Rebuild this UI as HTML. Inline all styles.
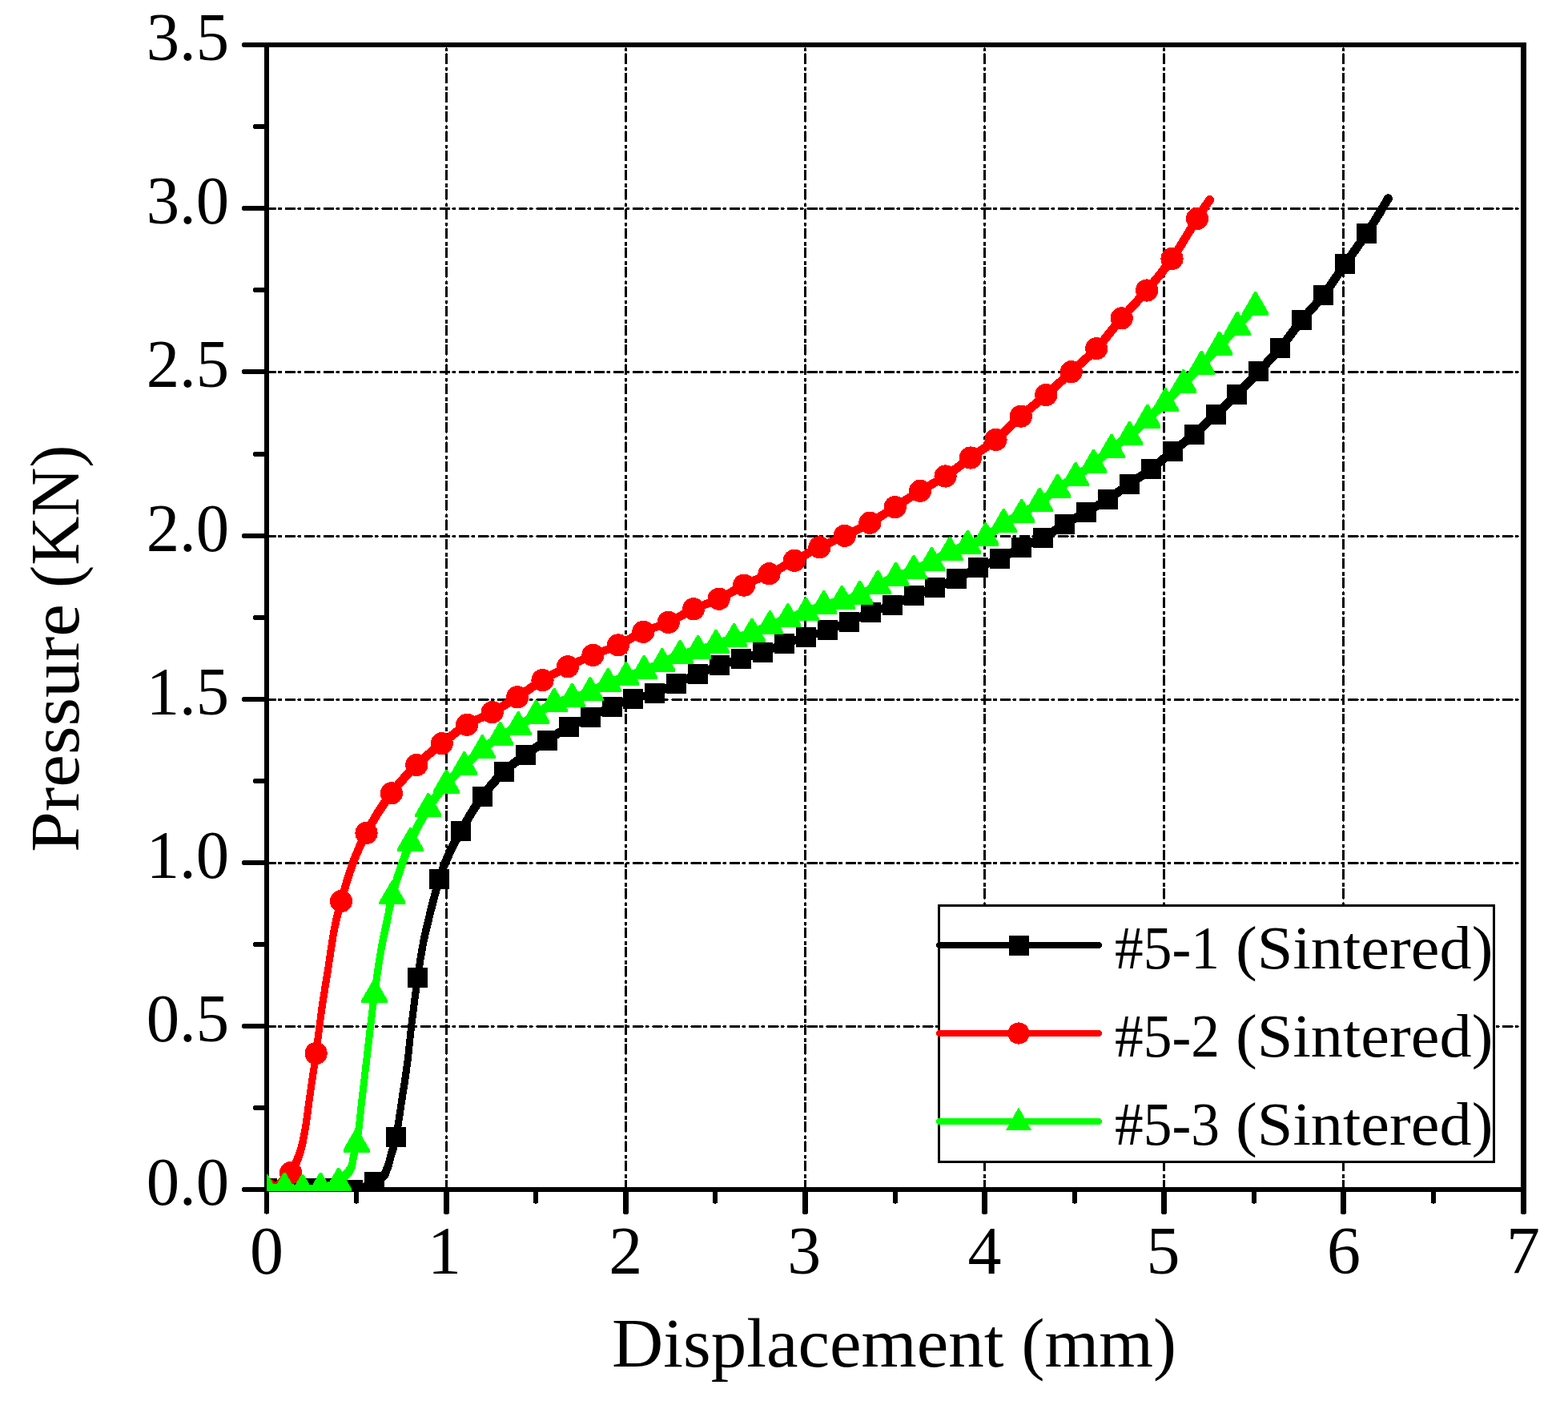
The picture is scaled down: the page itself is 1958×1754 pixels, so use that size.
<!DOCTYPE html>
<html lang="en"><head><meta charset="utf-8"><title>Pressure vs Displacement</title>
<style>html,body{margin:0;padding:0;background:#fff}svg{display:block}text{font-family:"Liberation Serif","DejaVu Serif",serif;fill:#000}</style>
</head><body>
<svg width="1958" height="1754" viewBox="0 0 1958 1754">
<rect width="1958" height="1754" fill="#fff"/>
<defs><clipPath id="plot"><rect x="333" y="56" width="1570" height="1431"/></clipPath></defs>
<g shape-rendering="crispEdges">
<g stroke="#000" stroke-width="3" fill="none" stroke-linecap="round" stroke-dasharray="10.6 5 2 6.65">
<line x1="557.5" y1="1485" x2="557.5" y2="57"/>
<line x1="781.5" y1="1485" x2="781.5" y2="57"/>
<line x1="1005.5" y1="1485" x2="1005.5" y2="57"/>
<line x1="1229.5" y1="1485" x2="1229.5" y2="57"/>
<line x1="1453.5" y1="1485" x2="1453.5" y2="57"/>
<line x1="1677.5" y1="1485" x2="1677.5" y2="57"/>
<line x1="333" y1="1281.5" x2="1901" y2="1281.5" stroke-dasharray="10.6 5 2 6.534"/>
<line x1="333" y1="1077.5" x2="1901" y2="1077.5" stroke-dasharray="10.6 5 2 6.534"/>
<line x1="333" y1="873.5" x2="1901" y2="873.5" stroke-dasharray="10.6 5 2 6.534"/>
<line x1="333" y1="669.5" x2="1901" y2="669.5" stroke-dasharray="10.6 5 2 6.534"/>
<line x1="333" y1="464.5" x2="1901" y2="464.5" stroke-dasharray="10.6 5 2 6.534"/>
<line x1="333" y1="260.5" x2="1901" y2="260.5" stroke-dasharray="10.6 5 2 6.534"/>
</g>
<g fill="#000">
<rect x="330" y="53" width="6" height="1435"/>
<rect x="1899" y="53" width="7" height="1435"/>
<path d="M330,53 H1904.5 L1906,54.5 V59 H330 Z"/>
<rect x="330" y="1482" width="1576" height="6"/>
</g>
<g stroke="#000" fill="none" stroke-linecap="round">
<line x1="305.0" y1="1485.0" x2="332" y2="1485.0" stroke-width="6"/>
<line x1="318.8" y1="1383.0" x2="332" y2="1383.0" stroke-width="6"/>
<line x1="305.0" y1="1281.0" x2="332" y2="1281.0" stroke-width="6"/>
<line x1="318.8" y1="1179.0" x2="332" y2="1179.0" stroke-width="6"/>
<line x1="305.0" y1="1077.0" x2="332" y2="1077.0" stroke-width="6"/>
<line x1="318.8" y1="975.0" x2="332" y2="975.0" stroke-width="6"/>
<line x1="305.0" y1="873.0" x2="332" y2="873.0" stroke-width="6"/>
<line x1="318.8" y1="771.0" x2="332" y2="771.0" stroke-width="6"/>
<line x1="305.0" y1="669.0" x2="332" y2="669.0" stroke-width="6"/>
<line x1="318.8" y1="567.0" x2="332" y2="567.0" stroke-width="6"/>
<line x1="305.0" y1="464.0" x2="332" y2="464.0" stroke-width="6"/>
<line x1="318.8" y1="362.0" x2="332" y2="362.0" stroke-width="6"/>
<line x1="305.0" y1="260.0" x2="332" y2="260.0" stroke-width="6"/>
<line x1="318.8" y1="158.0" x2="332" y2="158.0" stroke-width="6"/>
<line x1="305.0" y1="56.0" x2="332" y2="56.0" stroke-width="6"/>
<line x1="333.0" y1="1486" x2="333.0" y2="1512.8" stroke-width="6"/>
<line x1="445.0" y1="1486" x2="445.0" y2="1499.8" stroke-width="6"/>
<line x1="557.5" y1="1486" x2="557.5" y2="1512.8" stroke-width="7"/>
<line x1="669.0" y1="1486" x2="669.0" y2="1499.8" stroke-width="6"/>
<line x1="781.5" y1="1486" x2="781.5" y2="1512.8" stroke-width="7"/>
<line x1="893.0" y1="1486" x2="893.0" y2="1499.8" stroke-width="6"/>
<line x1="1005.5" y1="1486" x2="1005.5" y2="1512.8" stroke-width="7"/>
<line x1="1118.0" y1="1486" x2="1118.0" y2="1499.8" stroke-width="6"/>
<line x1="1229.5" y1="1486" x2="1229.5" y2="1512.8" stroke-width="7"/>
<line x1="1342.0" y1="1486" x2="1342.0" y2="1499.8" stroke-width="6"/>
<line x1="1453.5" y1="1486" x2="1453.5" y2="1512.8" stroke-width="7"/>
<line x1="1566.0" y1="1486" x2="1566.0" y2="1499.8" stroke-width="6"/>
<line x1="1677.5" y1="1486" x2="1677.5" y2="1512.8" stroke-width="7"/>
<line x1="1790.0" y1="1486" x2="1790.0" y2="1499.8" stroke-width="6"/>
<line x1="1902.5" y1="1486" x2="1902.5" y2="1512.8" stroke-width="7"/>
</g>
<g clip-path="url(#plot)">
<g fill="#000"><path d="M333.1,1487.7 L335.1,1487.7 L337.1,1487.7 L339.1,1487.7 L341.1,1487.7 L343.1,1487.7 L345.1,1487.7 L347.1,1487.7 L349.1,1487.7 L351.1,1487.7 L353.1,1487.7 L355.1,1487.7 L357.1,1487.7 L359.1,1487.7 L361.1,1487.7 L363.1,1487.7 L365.1,1487.7 L367.1,1487.7 L369.1,1487.7 L371.1,1487.7 L373.1,1487.7 L375.1,1487.7 L377.1,1487.7 L379.1,1487.7 L381.1,1487.7 L383.1,1487.7 L385.1,1487.7 L387.1,1487.7 L389.1,1487.7 L391.1,1487.7 L393.1,1487.7 L395.1,1487.7 L397.1,1487.7 L399.1,1487.7 L401.1,1487.7 L403.1,1487.7 L405.1,1487.7 L407.1,1487.7 L409.1,1487.7 L411.1,1487.7 L413.1,1487.7 L415.0,1487.7 L417.0,1487.8 L418.9,1487.9 L420.8,1488.1 L422.8,1488.3 L424.7,1488.4 L426.7,1488.6 L428.7,1488.8 L430.7,1488.9 L432.8,1489.0 L434.8,1489.1 L436.9,1489.2 L439.0,1489.2 L441.1,1489.2 L443.4,1489.3 L445.8,1489.2 L448.1,1488.9 L450.3,1488.5 L452.5,1487.9 L454.6,1487.3 L456.6,1486.5 L458.6,1485.7 L460.6,1484.9 L462.4,1484.0 L464.3,1483.1 L466.1,1482.3 L467.9,1481.4 L469.6,1480.5 L471.4,1479.6 L473.4,1478.7 L475.4,1477.7 L477.5,1476.5 L479.6,1475.1 L481.5,1473.5 L483.4,1471.5 L485.2,1468.5 L486.2,1466.1 L487.0,1463.9 L487.7,1461.9 L488.5,1459.9 L489.1,1458.0 L489.8,1455.7 L490.3,1453.6 L490.9,1451.5 L491.4,1449.5 L491.9,1447.6 L492.4,1445.7 L492.9,1443.9 L493.5,1442.1 L494.1,1440.3 L494.6,1438.4 L495.3,1436.5 L495.8,1434.6 L496.4,1432.6 L497.0,1430.6 L497.5,1428.5 L498.0,1426.5 L498.5,1424.4 L499.0,1422.3 L499.4,1420.2 L499.8,1418.0 L500.1,1415.9 L500.4,1413.8 L500.7,1411.7 L501.0,1409.7 L501.3,1407.7 L501.6,1405.7 L501.9,1403.7 L502.2,1401.7 L502.4,1399.8 L502.7,1397.8 L503.0,1395.9 L503.3,1393.9 L503.6,1391.9 L503.9,1390.0 L504.2,1388.0 L504.5,1386.0 L504.8,1384.0 L505.1,1382.0 L505.4,1380.0 L505.7,1378.1 L506.0,1376.1 L506.3,1374.1 L506.6,1372.1 L506.9,1370.1 L507.2,1368.2 L507.5,1366.2 L507.8,1364.3 L508.1,1362.3 L508.4,1360.3 L508.7,1358.4 L509.1,1356.4 L509.4,1354.4 L509.7,1352.4 L510.0,1350.4 L510.3,1348.4 L510.6,1346.4 L510.9,1344.4 L511.2,1342.4 L511.4,1340.4 L511.7,1338.4 L512.0,1336.4 L512.3,1334.4 L512.5,1332.4 L512.8,1330.4 L513.1,1328.4 L513.3,1326.4 L513.6,1324.3 L513.8,1322.3 L514.0,1320.2 L514.2,1318.2 L514.5,1316.2 L514.7,1314.2 L514.9,1312.2 L515.1,1310.2 L515.3,1308.2 L515.5,1306.2 L515.7,1304.2 L515.9,1302.2 L516.1,1300.2 L516.3,1298.2 L516.5,1296.2 L516.7,1294.2 L517.0,1292.3 L517.2,1290.3 L517.4,1288.3 L517.6,1286.4 L517.8,1284.4 L518.1,1282.5 L518.3,1280.5 L518.5,1278.5 L518.8,1276.6 L519.0,1274.6 L519.3,1272.6 L519.5,1270.6 L519.7,1268.6 L520.0,1266.7 L520.2,1264.7 L520.5,1262.7 L520.7,1260.7 L521.0,1258.8 L521.2,1256.8 L521.5,1254.8 L521.7,1252.8 L522.0,1250.9 L522.3,1248.9 L522.5,1246.9 L522.8,1244.9 L523.0,1243.0 L523.3,1241.0 L523.6,1239.0 L523.8,1237.1 L524.1,1235.1 L524.4,1233.1 L524.6,1231.2 L524.9,1229.2 L525.2,1227.2 L525.5,1225.3 L525.8,1223.3 L526.1,1221.3 L526.3,1219.4 L526.6,1217.4 L526.9,1215.4 L527.2,1213.4 L527.5,1211.5 L527.8,1209.5 L528.1,1207.5 L528.4,1205.6 L528.7,1203.6 L529.0,1201.7 L529.3,1199.7 L529.6,1197.8 L529.9,1195.8 L530.3,1193.9 L530.6,1191.9 L530.9,1190.0 L531.3,1188.0 L531.6,1186.1 L532.0,1184.2 L532.3,1182.3 L532.7,1180.4 L533.1,1178.4 L533.5,1176.5 L533.9,1174.6 L534.3,1172.7 L534.7,1170.8 L535.2,1168.9 L535.6,1167.0 L536.1,1165.1 L536.5,1163.1 L537.0,1161.2 L537.4,1159.3 L537.9,1157.3 L538.4,1155.4 L538.8,1153.5 L539.3,1151.5 L539.7,1149.6 L540.2,1147.7 L540.7,1145.7 L541.2,1143.8 L541.6,1141.9 L542.1,1139.9 L542.6,1138.0 L543.1,1136.1 L543.6,1134.2 L544.1,1132.2 L544.6,1130.3 L545.1,1128.4 L545.6,1126.5 L546.1,1124.6 L546.6,1122.6 L547.1,1120.7 L547.6,1118.8 L548.1,1116.9 L548.7,1115.0 L549.2,1113.1 L549.7,1111.2 L550.3,1109.3 L550.8,1107.4 L551.4,1105.6 L552.0,1103.7 L552.6,1101.8 L553.1,1099.9 L553.7,1098.1 L554.3,1096.2 L555.0,1094.4 L555.6,1092.5 L556.2,1090.7 L556.9,1088.8 L557.6,1087.0 L558.2,1085.2 L558.9,1083.4 L559.6,1081.6 L560.4,1079.9 L561.1,1078.1 L561.9,1076.3 L562.7,1074.5 L563.5,1072.8 L564.3,1071.0 L565.1,1069.2 L565.9,1067.4 L566.8,1065.7 L567.6,1063.9 L568.5,1062.2 L569.4,1060.4 L570.3,1058.7 L571.2,1056.9 L572.1,1055.2 L573.0,1053.5 L573.9,1051.7 L574.8,1050.0 L575.8,1048.3 L576.7,1046.5 L577.7,1044.8 L578.6,1043.1 L579.6,1041.3 L580.6,1039.6 L581.5,1037.8 L582.5,1036.1 L583.5,1034.4 L584.5,1032.7 L585.5,1031.0 L586.5,1029.3 L587.4,1027.5 L588.4,1025.8 L589.5,1024.1 L590.5,1022.5 L591.5,1020.8 L592.5,1019.1 L593.5,1017.4 L594.6,1015.8 L595.6,1014.1 L596.7,1012.4 L597.8,1010.8 L598.8,1009.2 L599.9,1007.5 L601.0,1005.9 L602.1,1004.3 L603.2,1002.7 L604.4,1001.2 L605.5,999.6 L606.6,998.0 L607.8,996.5 L609.0,994.9 L610.2,993.4 L611.4,991.8 L612.6,990.3 L613.8,988.8 L615.1,987.2 L616.3,985.7 L617.6,984.2 L618.8,982.7 L620.1,981.3 L621.4,979.8 L622.6,978.4 L623.9,976.9 L625.3,975.5 L626.6,974.1 L627.9,972.7 L629.3,971.3 L630.6,970.0 L632.0,968.6 L633.4,967.3 L634.8,966.0 L636.2,964.8 L637.7,963.5 L639.1,962.2 L640.6,961.0 L642.1,959.8 L643.6,958.6 L645.1,957.4 L646.7,956.2 L648.2,955.0 L649.8,953.8 L651.4,952.6 L653.0,951.5 L654.6,950.3 L656.2,949.1 L657.8,948.0 L659.4,946.8 L661.0,945.6 L662.6,944.5 L664.2,943.4 L665.8,942.2 L667.5,941.1 L669.1,940.0 L670.7,938.9 L672.4,937.8 L674.0,936.7 L675.7,935.6 L677.3,934.5 L679.0,933.5 L680.7,932.4 L682.3,931.3 L684.0,930.2 L685.7,929.1 L687.4,928.0 L689.1,927.0 L690.8,925.9 L692.4,924.8 L694.1,923.7 L695.8,922.6 L697.5,921.5 L699.1,920.5 L700.8,919.4 L702.4,918.4 L704.1,917.3 L705.8,916.3 L707.4,915.3 L709.1,914.4 L710.8,913.4 L712.4,912.5 L714.1,911.6 L715.8,910.7 L717.6,909.8 L719.3,908.9 L721.1,908.1 L722.8,907.3 L724.6,906.5 L726.4,905.6 L728.3,904.8 L730.1,904.0 L731.9,903.2 L733.8,902.4 L735.6,901.6 L737.5,900.7 L739.3,899.9 L741.2,899.0 L743.0,898.1 L744.8,897.3 L746.7,896.4 L748.5,895.5 L750.2,894.6 L752.0,893.7 L753.8,892.8 L755.6,891.9 L757.3,891.1 L759.1,890.2 L760.9,889.4 L762.6,888.5 L764.4,887.7 L766.1,887.0 L768.0,886.2 L769.8,885.4 L771.6,884.7 L773.5,883.9 L775.3,883.2 L777.1,882.4 L778.9,881.7 L780.8,881.0 L782.6,880.3 L784.4,879.6 L786.2,878.9 L788.1,878.3 L789.9,877.7 L791.7,877.1 L793.6,876.5 L795.4,875.9 L797.2,875.4 L799.1,874.9 L801.0,874.4 L802.9,874.0 L804.9,873.6 L806.8,873.1 L808.8,872.7 L810.8,872.3 L812.8,871.8 L814.9,871.3 L816.9,870.8 L818.9,870.2 L821.0,869.6 L823.0,868.9 L825.0,868.2 L827.0,867.4 L828.9,866.6 L830.8,865.7 L832.7,864.9 L834.5,864.0 L836.4,863.1 L838.2,862.2 L839.9,861.4 L841.7,860.5 L843.5,859.6 L845.2,858.8 L847.0,858.0 L848.8,857.2 L850.6,856.4 L852.4,855.5 L854.3,854.7 L856.1,853.9 L857.9,853.1 L859.7,852.3 L861.6,851.5 L863.4,850.7 L865.2,849.9 L867.0,849.1 L868.8,848.3 L870.6,847.5 L872.5,846.7 L874.3,846.0 L876.1,845.2 L878.0,844.4 L879.8,843.7 L881.7,842.9 L883.5,842.1 L885.3,841.4 L887.2,840.6 L889.0,839.9 L890.8,839.2 L892.7,838.5 L894.5,837.7 L896.3,837.1 L898.2,836.4 L900.0,835.7 L901.8,835.0 L903.7,834.4 L905.5,833.8 L907.4,833.2 L909.3,832.6 L911.2,832.0 L913.1,831.4 L915.0,830.8 L916.9,830.3 L918.8,829.7 L920.7,829.1 L922.7,828.6 L924.6,828.0 L926.5,827.4 L928.4,826.8 L930.3,826.3 L932.2,825.7 L934.1,825.1 L936.1,824.5 L938.0,824.0 L939.9,823.4 L941.8,822.8 L943.8,822.2 L945.7,821.7 L947.6,821.1 L949.6,820.5 L951.5,819.8 L953.5,819.2 L955.4,818.6 L957.4,817.9 L959.3,817.2 L961.2,816.5 L963.1,815.8 L965.0,815.0 L966.9,814.3 L968.7,813.5 L970.6,812.8 L972.4,812.1 L974.3,811.3 L976.1,810.6 L977.9,809.9 L979.7,809.2 L981.5,808.5 L983.4,807.9 L985.3,807.2 L987.1,806.6 L989.0,806.0 L990.9,805.4 L992.8,804.7 L994.7,804.1 L996.6,803.5 L998.5,802.9 L1000.4,802.3 L1002.3,801.7 L1004.2,801.1 L1006.1,800.5 L1008.0,799.9 L1009.9,799.3 L1011.8,798.7 L1013.7,798.1 L1015.6,797.5 L1017.5,796.9 L1019.4,796.3 L1021.4,795.7 L1023.3,795.1 L1025.2,794.5 L1027.1,793.9 L1029.1,793.3 L1031.0,792.7 L1032.9,792.1 L1034.8,791.4 L1036.7,790.8 L1038.7,790.1 L1040.6,789.4 L1042.5,788.8 L1044.4,788.1 L1046.3,787.4 L1048.2,786.7 L1050.1,786.0 L1052.0,785.3 L1053.8,784.6 L1055.7,783.8 L1057.6,783.1 L1059.5,782.4 L1061.4,781.6 L1063.3,780.9 L1065.2,780.1 L1067.1,779.3 L1069.0,778.4 L1070.8,777.6 L1072.7,776.8 L1074.5,775.9 L1076.3,775.1 L1078.1,774.2 L1079.9,773.4 L1081.7,772.5 L1083.4,771.7 L1085.2,770.9 L1086.9,770.2 L1088.7,769.4 L1090.5,768.7 L1092.3,768.0 L1094.1,767.4 L1095.9,766.7 L1097.8,766.1 L1099.7,765.5 L1101.6,764.9 L1103.5,764.2 L1105.4,763.6 L1107.3,763.0 L1109.3,762.4 L1111.2,761.7 L1113.2,761.1 L1115.1,760.4 L1117.1,759.7 L1119.0,758.9 L1121.0,758.1 L1122.9,757.3 L1124.7,756.5 L1126.6,755.7 L1128.4,754.8 L1130.2,754.0 L1132.1,753.2 L1133.9,752.3 L1135.6,751.5 L1137.4,750.7 L1139.2,749.9 L1141.0,749.1 L1142.7,748.3 L1144.5,747.6 L1146.4,746.8 L1148.2,746.1 L1150.0,745.4 L1151.9,744.7 L1153.7,744.0 L1155.6,743.3 L1157.5,742.6 L1159.4,742.0 L1161.2,741.3 L1163.1,740.6 L1165.0,739.9 L1166.9,739.2 L1168.9,738.5 L1170.7,737.7 L1172.6,737.0 L1174.5,736.3 L1176.3,735.6 L1178.2,734.8 L1180.1,734.1 L1182.0,733.3 L1183.8,732.6 L1185.7,731.8 L1187.6,731.1 L1189.5,730.3 L1191.3,729.5 L1193.2,728.7 L1195.1,727.9 L1196.9,727.1 L1198.8,726.2 L1200.7,725.3 L1202.6,724.4 L1204.4,723.5 L1206.2,722.6 L1208.0,721.6 L1209.8,720.7 L1211.6,719.7 L1213.3,718.8 L1215.1,717.9 L1216.8,716.9 L1218.5,716.0 L1220.3,715.1 L1222.0,714.3 L1223.7,713.4 L1225.4,712.6 L1227.2,711.8 L1229.0,711.1 L1230.8,710.3 L1232.6,709.6 L1234.4,708.8 L1236.3,708.1 L1238.1,707.4 L1240.0,706.7 L1241.9,705.9 L1243.8,705.2 L1245.7,704.4 L1247.6,703.6 L1249.5,702.8 L1251.5,702.0 L1253.4,701.1 L1255.2,700.2 L1257.1,699.3 L1258.9,698.3 L1260.7,697.4 L1262.5,696.4 L1264.3,695.4 L1266.0,694.5 L1267.8,693.5 L1269.5,692.5 L1271.2,691.6 L1272.9,690.6 L1274.6,689.7 L1276.4,688.8 L1278.1,687.9 L1279.8,687.1 L1281.5,686.3 L1283.3,685.5 L1285.1,684.6 L1286.9,683.9 L1288.7,683.1 L1290.6,682.3 L1292.4,681.5 L1294.3,680.7 L1296.1,679.9 L1298.0,679.1 L1299.9,678.2 L1301.8,677.4 L1303.7,676.5 L1305.6,675.5 L1307.5,674.5 L1309.3,673.5 L1311.1,672.5 L1312.9,671.4 L1314.6,670.3 L1316.4,669.3 L1318.1,668.2 L1319.8,667.1 L1321.5,666.0 L1323.1,664.9 L1324.8,663.8 L1326.5,662.7 L1328.1,661.7 L1329.8,660.7 L1331.4,659.6 L1333.1,658.6 L1334.8,657.6 L1336.5,656.7 L1338.2,655.7 L1339.9,654.7 L1341.6,653.7 L1343.4,652.8 L1345.1,651.8 L1346.8,650.8 L1348.6,649.8 L1350.4,648.9 L1352.1,647.9 L1353.9,646.9 L1355.6,645.9 L1357.4,644.9 L1359.2,643.9 L1360.9,642.9 L1362.6,641.9 L1364.3,640.9 L1366.1,639.9 L1367.8,638.9 L1369.6,637.9 L1371.3,636.9 L1373.0,635.9 L1374.8,634.9 L1376.5,633.8 L1378.3,632.8 L1380.0,631.8 L1381.7,630.7 L1383.5,629.6 L1385.2,628.6 L1386.9,627.5 L1388.7,626.3 L1390.4,625.2 L1392.1,624.1 L1393.8,622.9 L1395.4,621.8 L1397.1,620.6 L1398.8,619.5 L1400.4,618.3 L1402.0,617.1 L1403.7,616.0 L1405.3,614.8 L1406.9,613.6 L1408.5,612.5 L1410.2,611.3 L1411.8,610.2 L1413.4,609.0 L1415.0,607.9 L1416.6,606.8 L1418.3,605.6 L1419.9,604.5 L1421.6,603.4 L1423.2,602.2 L1424.9,601.1 L1426.5,600.0 L1428.2,598.8 L1429.8,597.7 L1431.5,596.5 L1433.1,595.3 L1434.8,594.2 L1436.5,593.0 L1438.1,591.8 L1439.8,590.6 L1441.4,589.4 L1443.0,588.1 L1444.6,586.9 L1446.3,585.6 L1447.8,584.4 L1449.4,583.1 L1451.0,581.8 L1452.6,580.5 L1454.1,579.3 L1455.7,578.0 L1457.2,576.7 L1458.8,575.4 L1460.3,574.2 L1461.9,572.9 L1463.4,571.6 L1464.9,570.4 L1466.5,569.1 L1468.0,567.9 L1469.5,566.7 L1471.1,565.4 L1472.6,564.2 L1474.2,563.0 L1475.8,561.8 L1477.4,560.5 L1478.9,559.3 L1480.5,558.1 L1482.1,556.8 L1483.7,555.6 L1485.3,554.3 L1486.9,553.1 L1488.5,551.8 L1490.0,550.5 L1491.6,549.2 L1493.2,547.9 L1494.7,546.6 L1496.3,545.2 L1497.8,543.9 L1499.4,542.5 L1500.9,541.2 L1502.4,539.8 L1503.9,538.4 L1505.4,537.1 L1506.8,535.7 L1508.3,534.3 L1509.8,532.9 L1511.2,531.5 L1512.7,530.2 L1514.2,528.8 L1515.6,527.4 L1517.1,526.0 L1518.5,524.7 L1519.9,523.3 L1521.4,522.0 L1522.8,520.6 L1524.3,519.3 L1525.8,517.9 L1527.2,516.6 L1528.7,515.2 L1530.2,513.8 L1531.6,512.5 L1533.1,511.1 L1534.6,509.8 L1536.1,508.4 L1537.5,507.0 L1539.0,505.6 L1540.5,504.3 L1542.0,502.9 L1543.4,501.5 L1544.9,500.1 L1546.3,498.7 L1547.8,497.2 L1549.2,495.8 L1550.7,494.4 L1552.1,492.9 L1553.5,491.5 L1554.9,490.0 L1556.3,488.6 L1557.7,487.1 L1559.1,485.7 L1560.5,484.2 L1561.9,482.7 L1563.3,481.3 L1564.7,479.8 L1566.0,478.3 L1567.4,476.9 L1568.8,475.4 L1570.2,473.9 L1571.5,472.5 L1572.9,471.0 L1574.2,469.5 L1575.6,468.1 L1577.0,466.6 L1578.3,465.2 L1579.7,463.7 L1581.0,462.3 L1582.4,460.8 L1583.8,459.3 L1585.2,457.9 L1586.5,456.4 L1587.9,454.9 L1589.3,453.4 L1590.6,452.0 L1592.0,450.5 L1593.4,449.0 L1594.7,447.5 L1596.1,446.0 L1597.4,444.4 L1598.8,442.9 L1600.1,441.4 L1601.4,439.8 L1602.7,438.3 L1604.1,436.7 L1605.4,435.1 L1606.7,433.5 L1607.9,431.9 L1609.2,430.3 L1610.4,428.7 L1611.7,427.1 L1612.9,425.5 L1614.1,423.9 L1615.3,422.2 L1616.5,420.6 L1617.7,419.0 L1618.9,417.4 L1620.1,415.9 L1621.3,414.3 L1622.5,412.7 L1623.7,411.1 L1625.0,409.6 L1626.2,408.0 L1627.4,406.5 L1628.6,405.0 L1629.8,403.5 L1631.1,402.0 L1632.3,400.5 L1633.6,399.0 L1634.9,397.5 L1636.2,396.1 L1637.5,394.6 L1638.8,393.1 L1640.1,391.6 L1641.5,390.1 L1642.8,388.7 L1644.1,387.2 L1645.5,385.7 L1646.8,384.1 L1648.2,382.6 L1649.5,381.1 L1650.8,379.5 L1652.2,377.9 L1653.5,376.4 L1654.8,374.8 L1656.1,373.1 L1657.3,371.5 L1658.6,369.9 L1659.8,368.2 L1661.0,366.5 L1662.2,364.9 L1663.4,363.2 L1664.6,361.5 L1665.8,359.9 L1666.9,358.2 L1668.1,356.5 L1669.2,354.9 L1670.3,353.2 L1671.4,351.5 L1672.6,349.8 L1673.7,348.2 L1674.8,346.5 L1675.9,344.9 L1677.0,343.2 L1678.1,341.5 L1679.2,339.9 L1680.4,338.3 L1681.5,336.6 L1682.6,335.0 L1683.7,333.4 L1684.9,331.8 L1686.0,330.2 L1687.1,328.5 L1688.3,326.9 L1689.5,325.3 L1690.6,323.7 L1691.8,322.1 L1693.0,320.5 L1694.1,318.8 L1695.3,317.2 L1696.5,315.6 L1697.6,314.0 L1698.8,312.3 L1700.0,310.7 L1701.1,309.0 L1702.3,307.4 L1703.5,305.7 L1704.6,304.1 L1705.8,302.4 L1706.9,300.7 L1708.1,299.1 L1709.2,297.4 L1710.3,295.7 L1711.4,294.0 L1712.5,292.3 L1713.6,290.6 L1714.7,288.9 L1715.8,287.2 L1716.9,285.5 L1718.0,283.8 L1719.1,282.1 L1720.2,280.4 L1721.2,278.7 L1722.3,277.0 L1723.4,275.3 L1724.4,273.5 L1725.5,271.8 L1726.5,270.1 L1727.6,268.4 L1728.6,266.6 L1729.6,264.9 L1730.7,263.2 L1731.7,261.5 L1732.7,259.7 L1733.7,258.0 L1734.8,256.3 L1735.8,254.5 L1736.8,252.8 L1737.8,251.0 L1738.2,250.3 L1728.8,244.9 L1728.4,245.6 L1727.4,247.3 L1726.4,249.0 L1725.4,250.7 L1724.3,252.4 L1723.3,254.2 L1722.3,255.9 L1721.3,257.6 L1720.3,259.3 L1719.2,261.0 L1718.2,262.7 L1717.2,264.4 L1716.1,266.1 L1715.1,267.8 L1714.0,269.5 L1713.0,271.2 L1711.9,272.9 L1710.9,274.5 L1709.8,276.2 L1708.7,277.9 L1707.6,279.6 L1706.6,281.3 L1705.5,282.9 L1704.4,284.6 L1703.3,286.2 L1702.2,287.9 L1701.1,289.6 L1700.0,291.2 L1698.9,292.8 L1697.8,294.5 L1696.6,296.1 L1695.5,297.7 L1694.4,299.4 L1693.2,301.0 L1692.1,302.6 L1690.9,304.2 L1689.8,305.8 L1688.6,307.5 L1687.4,309.1 L1686.3,310.7 L1685.1,312.3 L1683.9,314.0 L1682.8,315.6 L1681.6,317.2 L1680.4,318.8 L1679.2,320.5 L1678.1,322.1 L1676.9,323.7 L1675.8,325.4 L1674.6,327.0 L1673.5,328.7 L1672.3,330.4 L1671.2,332.0 L1670.1,333.7 L1668.9,335.4 L1667.8,337.0 L1666.7,338.7 L1665.6,340.4 L1664.5,342.0 L1663.4,343.7 L1662.3,345.3 L1661.1,347.0 L1660.0,348.6 L1658.9,350.3 L1657.8,351.9 L1656.6,353.5 L1655.5,355.2 L1654.4,356.8 L1653.2,358.4 L1652.1,360.0 L1650.9,361.5 L1649.7,363.1 L1648.5,364.6 L1647.3,366.2 L1646.1,367.7 L1644.8,369.2 L1643.6,370.7 L1642.3,372.2 L1641.0,373.7 L1639.7,375.2 L1638.4,376.7 L1637.1,378.2 L1635.8,379.6 L1634.4,381.1 L1633.1,382.6 L1631.7,384.1 L1630.4,385.6 L1629.1,387.1 L1627.7,388.6 L1626.4,390.1 L1625.1,391.7 L1623.7,393.2 L1622.4,394.8 L1621.1,396.4 L1619.9,397.9 L1618.6,399.5 L1617.4,401.1 L1616.1,402.7 L1614.9,404.3 L1613.7,405.9 L1612.4,407.5 L1611.2,409.1 L1610.0,410.7 L1608.8,412.3 L1607.6,413.9 L1606.4,415.5 L1605.2,417.1 L1604.0,418.7 L1602.8,420.3 L1601.6,421.8 L1600.4,423.4 L1599.1,424.9 L1597.9,426.5 L1596.7,428.0 L1595.4,429.5 L1594.2,431.0 L1592.9,432.5 L1591.6,434.0 L1590.3,435.5 L1589.0,437.0 L1587.7,438.5 L1586.3,439.9 L1585.0,441.4 L1583.7,442.9 L1582.3,444.3 L1581.0,445.8 L1579.6,447.2 L1578.3,448.7 L1576.9,450.2 L1575.5,451.6 L1574.2,453.1 L1572.8,454.5 L1571.4,456.0 L1570.1,457.5 L1568.7,458.9 L1567.3,460.4 L1566.0,461.9 L1564.6,463.3 L1563.3,464.8 L1561.9,466.3 L1560.5,467.7 L1559.2,469.2 L1557.8,470.6 L1556.4,472.1 L1555.1,473.5 L1553.7,475.0 L1552.3,476.4 L1551.0,477.9 L1549.6,479.3 L1548.2,480.7 L1546.8,482.2 L1545.5,483.6 L1544.1,485.0 L1542.7,486.4 L1541.3,487.8 L1539.9,489.2 L1538.5,490.6 L1537.0,491.9 L1535.6,493.3 L1534.2,494.7 L1532.7,496.1 L1531.3,497.4 L1529.8,498.8 L1528.4,500.1 L1526.9,501.5 L1525.5,502.8 L1524.0,504.2 L1522.5,505.6 L1521.1,506.9 L1519.6,508.3 L1518.1,509.6 L1516.6,511.0 L1515.2,512.3 L1513.7,513.7 L1512.2,515.1 L1510.8,516.5 L1509.3,517.8 L1507.8,519.2 L1506.4,520.6 L1504.9,522.0 L1503.5,523.4 L1502.0,524.7 L1500.6,526.1 L1499.1,527.4 L1497.7,528.8 L1496.2,530.1 L1494.8,531.5 L1493.3,532.8 L1491.9,534.1 L1490.4,535.4 L1488.9,536.7 L1487.4,538.0 L1485.9,539.3 L1484.4,540.6 L1482.9,541.8 L1481.4,543.1 L1479.8,544.3 L1478.3,545.6 L1476.8,546.8 L1475.2,548.0 L1473.6,549.3 L1472.1,550.5 L1470.5,551.7 L1468.9,552.9 L1467.3,554.2 L1465.7,555.4 L1464.2,556.6 L1462.6,557.9 L1461.0,559.2 L1459.4,560.4 L1457.8,561.7 L1456.3,563.0 L1454.7,564.2 L1453.2,565.5 L1451.6,566.8 L1450.1,568.0 L1448.5,569.3 L1447.0,570.6 L1445.5,571.8 L1443.9,573.1 L1442.4,574.4 L1440.9,575.6 L1439.3,576.8 L1437.8,578.0 L1436.2,579.3 L1434.7,580.4 L1433.1,581.6 L1431.5,582.8 L1429.9,584.0 L1428.3,585.1 L1426.7,586.3 L1425.1,587.4 L1423.5,588.6 L1421.8,589.7 L1420.2,590.8 L1418.6,592.0 L1416.9,593.1 L1415.3,594.2 L1413.6,595.4 L1412.0,596.5 L1410.3,597.6 L1408.7,598.8 L1407.0,599.9 L1405.4,601.1 L1403.7,602.2 L1402.1,603.4 L1400.4,604.6 L1398.8,605.7 L1397.2,606.9 L1395.6,608.1 L1393.9,609.2 L1392.3,610.4 L1390.7,611.5 L1389.1,612.7 L1387.5,613.8 L1385.8,614.9 L1384.2,616.0 L1382.6,617.1 L1381.0,618.2 L1379.3,619.3 L1377.7,620.3 L1376.0,621.4 L1374.3,622.4 L1372.6,623.4 L1370.9,624.5 L1369.2,625.5 L1367.5,626.5 L1365.8,627.5 L1364.1,628.5 L1362.4,629.5 L1360.6,630.5 L1358.9,631.5 L1357.2,632.5 L1355.4,633.5 L1353.7,634.5 L1352.0,635.5 L1350.3,636.5 L1348.6,637.4 L1346.8,638.4 L1345.1,639.4 L1343.3,640.4 L1341.6,641.3 L1339.8,642.3 L1338.1,643.3 L1336.3,644.3 L1334.6,645.2 L1332.8,646.2 L1331.1,647.2 L1329.3,648.2 L1327.5,649.2 L1325.8,650.3 L1324.0,651.3 L1322.3,652.4 L1320.5,653.5 L1318.8,654.5 L1317.1,655.6 L1315.5,656.7 L1313.8,657.8 L1312.1,658.9 L1310.5,660.0 L1308.8,661.0 L1307.2,662.1 L1305.5,663.1 L1303.8,664.1 L1302.2,665.1 L1300.5,666.0 L1298.9,666.9 L1297.1,667.8 L1295.4,668.6 L1293.7,669.5 L1291.9,670.3 L1290.1,671.1 L1288.3,671.9 L1286.5,672.7 L1284.6,673.5 L1282.8,674.2 L1280.9,675.0 L1279.0,675.8 L1277.2,676.7 L1275.3,677.5 L1273.4,678.4 L1271.5,679.3 L1269.7,680.2 L1267.9,681.1 L1266.1,682.1 L1264.3,683.0 L1262.5,684.0 L1260.8,685.0 L1259.0,685.9 L1257.3,686.9 L1255.6,687.9 L1253.8,688.8 L1252.1,689.7 L1250.4,690.6 L1248.7,691.5 L1247.0,692.4 L1245.2,693.2 L1243.5,694.0 L1241.7,694.8 L1239.9,695.6 L1238.1,696.3 L1236.2,697.0 L1234.4,697.8 L1232.5,698.5 L1230.7,699.2 L1228.8,700.0 L1226.9,700.7 L1225.0,701.4 L1223.1,702.2 L1221.2,703.0 L1219.3,703.8 L1217.4,704.7 L1215.5,705.6 L1213.7,706.5 L1211.9,707.4 L1210.1,708.3 L1208.3,709.3 L1206.5,710.2 L1204.7,711.2 L1203.0,712.1 L1201.2,713.0 L1199.5,714.0 L1197.8,714.9 L1196.0,715.7 L1194.3,716.6 L1192.6,717.4 L1190.8,718.3 L1189.0,719.1 L1187.2,719.9 L1185.4,720.7 L1183.6,721.4 L1181.7,722.2 L1179.9,723.0 L1178.1,723.7 L1176.2,724.5 L1174.4,725.2 L1172.5,725.9 L1170.7,726.7 L1168.8,727.4 L1167.0,728.1 L1165.1,728.9 L1163.3,729.6 L1161.4,730.3 L1159.6,731.0 L1157.7,731.7 L1155.9,732.4 L1154.0,733.0 L1152.1,733.7 L1150.2,734.4 L1148.3,735.1 L1146.4,735.8 L1144.5,736.5 L1142.6,737.2 L1140.7,737.9 L1138.8,738.7 L1136.9,739.4 L1135.0,740.2 L1133.1,741.0 L1131.3,741.9 L1129.4,742.7 L1127.6,743.6 L1125.8,744.4 L1124.0,745.2 L1122.2,746.1 L1120.4,746.9 L1118.6,747.7 L1116.8,748.5 L1115.1,749.3 L1113.3,750.1 L1111.5,750.8 L1109.7,751.5 L1107.9,752.2 L1106.0,752.8 L1104.2,753.5 L1102.3,754.1 L1100.4,754.7 L1098.5,755.3 L1096.6,755.9 L1094.7,756.5 L1092.7,757.1 L1090.8,757.8 L1088.9,758.4 L1086.9,759.1 L1084.9,759.8 L1083.0,760.6 L1081.1,761.3 L1079.2,762.1 L1077.3,762.9 L1075.5,763.8 L1073.6,764.6 L1071.8,765.5 L1070.0,766.3 L1068.2,767.2 L1066.4,768.0 L1064.6,768.8 L1062.8,769.7 L1061.0,770.5 L1059.3,771.2 L1057.5,772.0 L1055.6,772.8 L1053.8,773.5 L1052.0,774.2 L1050.1,775.0 L1048.3,775.7 L1046.4,776.4 L1044.6,777.1 L1042.7,777.8 L1040.9,778.5 L1039.0,779.2 L1037.1,779.8 L1035.3,780.5 L1033.4,781.2 L1031.5,781.8 L1029.7,782.5 L1027.8,783.1 L1025.9,783.8 L1024.1,784.4 L1022.2,785.0 L1020.3,785.6 L1018.4,786.2 L1016.5,786.8 L1014.6,787.4 L1012.7,788.0 L1010.7,788.6 L1008.8,789.2 L1006.9,789.8 L1005.0,790.4 L1003.1,791.0 L1001.2,791.6 L999.3,792.2 L997.4,792.8 L995.5,793.4 L993.6,794.0 L991.6,794.6 L989.7,795.2 L987.8,795.8 L985.9,796.4 L984.0,797.0 L982.0,797.7 L980.1,798.3 L978.2,798.9 L976.3,799.6 L974.3,800.3 L972.4,801.0 L970.5,801.7 L968.6,802.4 L966.7,803.2 L964.9,803.9 L963.0,804.7 L961.2,805.4 L959.3,806.1 L957.5,806.9 L955.7,807.6 L953.9,808.3 L952.0,809.0 L950.2,809.6 L948.4,810.3 L946.5,810.9 L944.6,811.5 L942.7,812.1 L940.8,812.7 L938.9,813.3 L937.0,813.9 L935.1,814.4 L933.2,815.0 L931.3,815.6 L929.4,816.1 L927.5,816.7 L925.5,817.3 L923.6,817.9 L921.7,818.5 L919.8,819.1 L917.9,819.6 L916.0,820.2 L914.1,820.8 L912.1,821.3 L910.2,821.9 L908.3,822.5 L906.4,823.0 L904.4,823.6 L902.5,824.2 L900.5,824.8 L898.6,825.5 L896.7,826.1 L894.7,826.8 L892.8,827.4 L890.9,828.1 L889.0,828.8 L887.1,829.6 L885.2,830.3 L883.3,831.0 L881.4,831.8 L879.6,832.5 L877.7,833.3 L875.8,834.0 L874.0,834.8 L872.1,835.6 L870.3,836.3 L868.4,837.1 L866.6,837.9 L864.7,838.7 L862.9,839.5 L861.0,840.3 L859.2,841.1 L857.3,841.9 L855.5,842.7 L853.6,843.5 L851.8,844.3 L850.0,845.1 L848.2,845.9 L846.3,846.7 L844.5,847.6 L842.7,848.4 L840.8,849.2 L838.9,850.0 L837.1,850.9 L835.3,851.8 L833.5,852.7 L831.7,853.6 L829.9,854.4 L828.1,855.3 L826.4,856.1 L824.6,857.0 L822.9,857.8 L821.1,858.6 L819.4,859.3 L817.6,860.0 L815.9,860.7 L814.1,861.3 L812.3,861.8 L810.4,862.4 L808.6,862.9 L806.7,863.3 L804.7,863.8 L802.8,864.2 L800.8,864.7 L798.9,865.1 L796.9,865.5 L794.9,866.0 L792.9,866.5 L790.8,867.0 L788.8,867.5 L786.8,868.1 L784.9,868.7 L782.9,869.4 L781.0,870.0 L779.1,870.7 L777.1,871.4 L775.2,872.1 L773.3,872.8 L771.4,873.5 L769.6,874.3 L767.7,875.0 L765.8,875.8 L764.0,876.6 L762.1,877.3 L760.2,878.1 L758.3,878.9 L756.4,879.8 L754.6,880.6 L752.7,881.5 L750.9,882.4 L749.1,883.2 L747.3,884.1 L745.5,885.0 L743.7,885.9 L741.9,886.8 L740.1,887.7 L738.4,888.6 L736.6,889.4 L734.8,890.3 L733.0,891.1 L731.3,892.0 L729.5,892.8 L727.7,893.6 L725.8,894.4 L724.0,895.2 L722.2,896.0 L720.3,896.8 L718.5,897.7 L716.6,898.5 L714.8,899.4 L712.9,900.2 L711.1,901.1 L709.2,902.0 L707.4,903.0 L705.5,903.9 L703.7,904.9 L701.9,905.9 L700.2,906.9 L698.4,908.0 L696.7,909.0 L694.9,910.1 L693.2,911.2 L691.5,912.3 L689.8,913.4 L688.1,914.4 L686.4,915.5 L684.8,916.6 L683.1,917.7 L681.4,918.8 L679.8,919.9 L678.1,920.9 L676.4,922.0 L674.7,923.1 L673.0,924.2 L671.3,925.3 L669.6,926.4 L667.9,927.5 L666.3,928.6 L664.6,929.7 L662.9,930.8 L661.2,932.0 L659.5,933.1 L657.9,934.2 L656.2,935.4 L654.6,936.6 L652.9,937.8 L651.3,938.9 L649.7,940.1 L648.0,941.3 L646.4,942.5 L644.8,943.6 L643.1,944.8 L641.5,946.0 L639.9,947.3 L638.3,948.5 L636.7,949.8 L635.0,951.0 L633.5,952.3 L631.9,953.6 L630.3,955.0 L628.8,956.3 L627.2,957.7 L625.7,959.1 L624.2,960.5 L622.7,961.9 L621.3,963.4 L619.8,964.8 L618.4,966.3 L617.0,967.8 L615.6,969.3 L614.2,970.8 L612.9,972.4 L611.6,973.9 L610.2,975.5 L608.9,977.0 L607.6,978.6 L606.4,980.2 L605.1,981.7 L603.8,983.3 L602.6,984.9 L601.3,986.5 L600.1,988.1 L598.9,989.8 L597.7,991.4 L596.5,993.0 L595.3,994.7 L594.1,996.4 L593.0,998.0 L591.8,999.7 L590.7,1001.4 L589.6,1003.1 L588.5,1004.8 L587.4,1006.5 L586.3,1008.2 L585.3,1009.9 L584.2,1011.7 L583.2,1013.4 L582.1,1015.1 L581.1,1016.8 L580.1,1018.6 L579.0,1020.3 L578.0,1022.1 L577.0,1023.8 L576.0,1025.5 L575.0,1027.3 L574.0,1029.0 L573.1,1030.8 L572.1,1032.6 L571.1,1034.3 L570.1,1036.1 L569.2,1037.8 L568.2,1039.6 L567.2,1041.3 L566.3,1043.1 L565.3,1044.9 L564.4,1046.7 L563.4,1048.5 L562.5,1050.3 L561.6,1052.0 L560.7,1053.9 L559.8,1055.7 L558.9,1057.5 L558.1,1059.3 L557.2,1061.1 L556.3,1063.0 L555.5,1064.8 L554.7,1066.7 L553.9,1068.5 L553.1,1070.4 L552.3,1072.2 L551.5,1074.1 L550.8,1076.0 L550.0,1077.9 L549.3,1079.8 L548.6,1081.7 L547.9,1083.6 L547.3,1085.5 L546.6,1087.4 L546.0,1089.3 L545.4,1091.2 L544.8,1093.1 L544.2,1095.0 L543.6,1097.0 L543.0,1098.9 L542.4,1100.8 L541.9,1102.7 L541.3,1104.7 L540.8,1106.6 L540.2,1108.5 L539.7,1110.5 L539.2,1112.4 L538.7,1114.3 L538.1,1116.3 L537.6,1118.2 L537.1,1120.1 L536.6,1122.1 L536.1,1124.0 L535.6,1126.0 L535.1,1127.9 L534.6,1129.8 L534.2,1131.8 L533.7,1133.7 L533.2,1135.7 L532.7,1137.6 L532.2,1139.6 L531.8,1141.5 L531.3,1143.4 L530.8,1145.4 L530.4,1147.3 L529.9,1149.3 L529.4,1151.2 L529.0,1153.2 L528.5,1155.1 L528.0,1157.1 L527.6,1159.0 L527.1,1161.0 L526.7,1162.9 L526.3,1164.9 L525.8,1166.8 L525.4,1168.8 L525.0,1170.7 L524.6,1172.7 L524.2,1174.7 L523.9,1176.6 L523.5,1178.6 L523.1,1180.5 L522.8,1182.5 L522.4,1184.5 L522.1,1186.5 L521.8,1188.4 L521.5,1190.4 L521.1,1192.4 L520.8,1194.3 L520.5,1196.3 L520.2,1198.3 L519.9,1200.3 L519.6,1202.2 L519.3,1204.2 L519.0,1206.2 L518.7,1208.2 L518.4,1210.1 L518.1,1212.1 L517.9,1214.1 L517.6,1216.1 L517.3,1218.0 L517.0,1220.0 L516.7,1222.0 L516.4,1224.0 L516.2,1226.0 L515.9,1227.9 L515.6,1229.9 L515.4,1231.9 L515.1,1233.9 L514.8,1235.8 L514.6,1237.8 L514.3,1239.8 L514.0,1241.8 L513.8,1243.8 L513.5,1245.7 L513.3,1247.7 L513.0,1249.7 L512.8,1251.7 L512.5,1253.7 L512.3,1255.7 L512.0,1257.6 L511.8,1259.6 L511.5,1261.6 L511.3,1263.6 L511.0,1265.6 L510.8,1267.6 L510.6,1269.5 L510.3,1271.5 L510.1,1273.5 L509.8,1275.5 L509.6,1277.5 L509.4,1279.5 L509.1,1281.4 L508.9,1283.4 L508.7,1285.4 L508.5,1287.4 L508.3,1289.3 L508.1,1291.3 L507.9,1293.3 L507.7,1295.3 L507.5,1297.3 L507.3,1299.3 L507.1,1301.3 L506.8,1303.3 L506.6,1305.2 L506.4,1307.2 L506.2,1309.2 L506.0,1311.2 L505.8,1313.2 L505.6,1315.2 L505.3,1317.2 L505.1,1319.2 L504.9,1321.2 L504.6,1323.2 L504.3,1325.2 L504.1,1327.2 L503.8,1329.2 L503.5,1331.2 L503.3,1333.2 L503.0,1335.2 L502.7,1337.1 L502.4,1339.1 L502.1,1341.1 L501.8,1343.1 L501.5,1345.1 L501.2,1347.1 L500.9,1349.0 L500.6,1351.0 L500.3,1353.0 L500.0,1355.0 L499.6,1356.9 L499.3,1358.9 L499.0,1360.9 L498.7,1362.9 L498.4,1364.8 L498.1,1366.8 L497.8,1368.8 L497.5,1370.8 L497.3,1372.7 L497.0,1374.7 L496.7,1376.7 L496.4,1378.7 L496.1,1380.7 L495.8,1382.6 L495.5,1384.6 L495.2,1386.6 L494.9,1388.6 L494.6,1390.5 L494.3,1392.5 L494.0,1394.5 L493.7,1396.5 L493.4,1398.4 L493.1,1400.4 L492.8,1402.4 L492.5,1404.4 L492.2,1406.4 L491.9,1408.4 L491.6,1410.3 L491.3,1412.3 L490.9,1414.3 L490.5,1416.3 L490.1,1418.3 L489.6,1420.2 L489.1,1422.1 L488.6,1424.0 L488.1,1426.0 L487.5,1427.8 L486.9,1429.7 L486.3,1431.6 L485.7,1433.5 L485.1,1435.4 L484.5,1437.3 L483.9,1439.3 L483.4,1441.2 L482.9,1443.2 L482.4,1445.1 L481.9,1447.1 L481.4,1449.0 L480.9,1450.9 L480.2,1452.8 L479.5,1454.6 L478.8,1456.4 L478.1,1458.3 L477.4,1460.1 L476.6,1461.8 L475.7,1463.3 L474.9,1464.2 L473.8,1465.3 L472.6,1466.3 L471.4,1467.3 L470.0,1468.3 L468.5,1469.2 L466.8,1470.1 L465.0,1470.9 L463.2,1471.8 L461.4,1472.7 L459.6,1473.6 L457.8,1474.4 L456.1,1475.3 L454.4,1476.1 L452.7,1476.9 L451.0,1477.7 L449.3,1478.4 L447.6,1479.0 L445.9,1479.6 L444.3,1480.1 L442.6,1480.5 L441.0,1480.8 L439.1,1480.8 L437.2,1480.7 L435.3,1480.5 L433.4,1480.4 L431.4,1480.2 L429.4,1480.0 L427.4,1479.8 L425.4,1479.7 L423.4,1479.5 L421.4,1479.4 L419.3,1479.3 L417.2,1479.3 L415.2,1479.3 L413.1,1479.3 L411.1,1479.3 L409.1,1479.3 L407.1,1479.3 L405.1,1479.3 L403.1,1479.3 L401.1,1479.3 L399.1,1479.3 L397.1,1479.3 L395.1,1479.3 L393.1,1479.3 L391.1,1479.3 L389.1,1479.3 L387.1,1479.3 L385.1,1479.3 L383.1,1479.3 L381.1,1479.3 L379.1,1479.3 L377.1,1479.3 L375.1,1479.3 L373.1,1479.3 L371.1,1479.3 L369.1,1479.3 L367.1,1479.3 L365.1,1479.3 L363.1,1479.3 L361.1,1479.3 L359.1,1479.3 L357.1,1479.3 L355.1,1479.3 L353.1,1479.3 L351.1,1479.3 L349.1,1479.3 L347.1,1479.3 L345.1,1479.3 L343.1,1479.3 L341.1,1479.3 L339.1,1479.3 L337.1,1479.3 L335.1,1479.3 L333.1,1479.3Z"/><circle cx="333.1" cy="1483.5" r="4.2"/><circle cx="1733.5" cy="247.6" r="5.4"/></g>
<g fill="#000"><rect x="320.6" y="1471.0" width="25" height="25"/><rect x="347.5" y="1471.0" width="25" height="25"/><rect x="374.5" y="1471.0" width="25" height="25"/><rect x="401.4" y="1471.0" width="25" height="25"/><rect x="428.3" y="1472.5" width="25" height="25"/><rect x="455.2" y="1463.0" width="25" height="25"/><rect x="482.2" y="1407.0" width="25" height="25"/><rect x="509.1" y="1207.6" width="25" height="25"/><rect x="536.0" y="1085.4" width="25" height="25"/><rect x="563.0" y="1025.1" width="25" height="25"/><rect x="589.9" y="981.9" width="25" height="25"/><rect x="616.8" y="950.9" width="25" height="25"/><rect x="643.8" y="929.7" width="25" height="25"/><rect x="670.7" y="911.7" width="25" height="25"/><rect x="697.6" y="895.1" width="25" height="25"/><rect x="724.5" y="882.6" width="25" height="25"/><rect x="751.5" y="869.7" width="25" height="25"/><rect x="778.4" y="859.6" width="25" height="25"/><rect x="805.3" y="852.8" width="25" height="25"/><rect x="832.3" y="840.7" width="25" height="25"/><rect x="859.2" y="828.9" width="25" height="25"/><rect x="886.1" y="818.3" width="25" height="25"/><rect x="913.1" y="810.0" width="25" height="25"/><rect x="940.0" y="801.7" width="25" height="25"/><rect x="966.9" y="791.4" width="25" height="25"/><rect x="993.9" y="782.7" width="25" height="25"/><rect x="1020.8" y="774.1" width="25" height="25"/><rect x="1047.7" y="764.0" width="25" height="25"/><rect x="1074.6" y="752.0" width="25" height="25"/><rect x="1101.6" y="742.8" width="25" height="25"/><rect x="1128.5" y="730.9" width="25" height="25"/><rect x="1155.4" y="720.8" width="25" height="25"/><rect x="1182.4" y="709.7" width="25" height="25"/><rect x="1209.3" y="696.0" width="25" height="25"/><rect x="1236.2" y="684.9" width="25" height="25"/><rect x="1263.2" y="670.7" width="25" height="25"/><rect x="1290.1" y="658.5" width="25" height="25"/><rect x="1317.0" y="641.9" width="25" height="25"/><rect x="1343.9" y="626.7" width="25" height="25"/><rect x="1370.9" y="610.7" width="25" height="25"/><rect x="1397.8" y="591.9" width="25" height="25"/><rect x="1424.7" y="573.0" width="25" height="25"/><rect x="1451.7" y="551.3" width="25" height="25"/><rect x="1478.6" y="529.8" width="25" height="25"/><rect x="1505.5" y="504.9" width="25" height="25"/><rect x="1532.4" y="479.6" width="25" height="25"/><rect x="1559.4" y="451.3" width="25" height="25"/><rect x="1586.3" y="421.7" width="25" height="25"/><rect x="1613.2" y="387.1" width="25" height="25"/><rect x="1640.2" y="355.9" width="25" height="25"/><rect x="1667.1" y="317.1" width="25" height="25"/><rect x="1694.0" y="278.9" width="25" height="25"/></g>
<g fill="#f00"><path d="M331.7,1488.2 L334.2,1488.3 L336.6,1488.2 L338.9,1487.8 L341.1,1487.3 L343.2,1486.7 L345.1,1486.0 L347.6,1485.3 L350.0,1484.1 L352.0,1482.8 L353.9,1481.4 L355.5,1480.1 L357.1,1478.7 L358.7,1477.4 L360.4,1475.9 L362.0,1474.3 L363.5,1472.6 L365.0,1470.9 L366.4,1469.1 L367.7,1467.2 L368.9,1465.2 L370.1,1463.2 L371.1,1461.2 L372.0,1459.3 L372.9,1457.3 L373.8,1455.3 L374.6,1453.4 L375.4,1451.5 L376.2,1449.5 L376.9,1447.6 L377.6,1445.5 L378.3,1443.5 L379.0,1441.4 L379.6,1439.4 L380.1,1437.4 L380.7,1435.3 L381.2,1433.3 L381.7,1431.2 L382.2,1429.1 L382.6,1427.1 L383.0,1425.0 L383.4,1423.0 L383.8,1420.9 L384.2,1418.9 L384.5,1416.9 L384.9,1414.9 L385.2,1412.9 L385.6,1410.9 L385.9,1408.9 L386.2,1406.8 L386.5,1404.8 L386.8,1402.7 L387.1,1400.7 L387.4,1398.7 L387.7,1396.6 L387.9,1394.6 L388.2,1392.6 L388.5,1390.6 L388.7,1388.6 L389.0,1386.6 L389.2,1384.7 L389.5,1382.7 L389.8,1380.7 L390.0,1378.7 L390.3,1376.8 L390.6,1374.8 L390.8,1372.9 L391.1,1370.9 L391.4,1368.9 L391.7,1367.0 L392.0,1365.0 L392.3,1363.0 L392.5,1361.1 L392.8,1359.1 L393.1,1357.1 L393.4,1355.1 L393.7,1353.2 L394.0,1351.2 L394.3,1349.2 L394.6,1347.2 L394.9,1345.2 L395.2,1343.3 L395.5,1341.3 L395.7,1339.3 L396.0,1337.3 L396.3,1335.3 L396.6,1333.4 L396.9,1331.4 L397.2,1329.4 L397.5,1327.4 L397.7,1325.4 L398.0,1323.4 L398.3,1321.4 L398.6,1319.4 L398.8,1317.4 L399.1,1315.4 L399.4,1313.4 L399.6,1311.4 L399.9,1309.4 L400.2,1307.4 L400.4,1305.4 L400.7,1303.4 L400.9,1301.4 L401.2,1299.4 L401.4,1297.5 L401.7,1295.5 L401.9,1293.5 L402.2,1291.5 L402.4,1289.5 L402.7,1287.5 L402.9,1285.5 L403.2,1283.6 L403.4,1281.6 L403.7,1279.6 L403.9,1277.6 L404.2,1275.7 L404.4,1273.7 L404.7,1271.7 L405.0,1269.7 L405.2,1267.8 L405.5,1265.8 L405.8,1263.9 L406.0,1261.9 L406.3,1260.0 L406.6,1258.0 L406.9,1256.1 L407.2,1254.1 L407.5,1252.2 L407.8,1250.2 L408.1,1248.2 L408.4,1246.3 L408.7,1244.3 L409.1,1242.4 L409.4,1240.4 L409.7,1238.4 L410.0,1236.5 L410.3,1234.5 L410.7,1232.5 L411.0,1230.6 L411.3,1228.6 L411.6,1226.6 L412.0,1224.6 L412.3,1222.7 L412.6,1220.7 L412.9,1218.7 L413.2,1216.7 L413.5,1214.7 L413.8,1212.7 L414.1,1210.7 L414.4,1208.7 L414.7,1206.7 L415.0,1204.7 L415.3,1202.8 L415.6,1200.8 L415.9,1198.8 L416.2,1196.8 L416.5,1194.8 L416.8,1192.9 L417.1,1190.9 L417.4,1188.9 L417.7,1186.9 L418.0,1185.0 L418.3,1183.0 L418.6,1181.1 L418.9,1179.1 L419.2,1177.1 L419.6,1175.2 L419.9,1173.2 L420.2,1171.3 L420.5,1169.4 L420.9,1167.4 L421.2,1165.5 L421.6,1163.6 L422.0,1161.7 L422.3,1159.8 L422.7,1157.9 L423.2,1156.0 L423.6,1154.1 L424.0,1152.2 L424.4,1150.3 L424.9,1148.4 L425.4,1146.5 L425.8,1144.6 L426.3,1142.7 L426.8,1140.8 L427.3,1138.9 L427.8,1137.1 L428.3,1135.2 L428.9,1133.2 L429.4,1131.3 L429.9,1129.4 L430.5,1127.5 L431.0,1125.6 L431.5,1123.7 L432.1,1121.7 L432.6,1119.8 L433.1,1117.9 L433.7,1116.0 L434.2,1114.1 L434.8,1112.2 L435.3,1110.3 L435.9,1108.4 L436.5,1106.5 L437.0,1104.6 L437.6,1102.7 L438.2,1100.8 L438.8,1098.9 L439.4,1097.1 L440.0,1095.2 L440.6,1093.3 L441.2,1091.4 L441.8,1089.6 L442.5,1087.7 L443.1,1085.9 L443.8,1084.1 L444.4,1082.2 L445.1,1080.4 L445.8,1078.6 L446.5,1076.8 L447.2,1075.0 L448.0,1073.1 L448.7,1071.3 L449.4,1069.5 L450.2,1067.7 L451.0,1065.9 L451.7,1064.1 L452.5,1062.3 L453.3,1060.5 L454.1,1058.8 L455.0,1057.0 L455.8,1055.2 L456.6,1053.5 L457.5,1051.7 L458.4,1050.0 L459.2,1048.2 L460.1,1046.5 L461.0,1044.8 L461.9,1043.0 L462.9,1041.3 L463.8,1039.6 L464.7,1037.9 L465.7,1036.1 L466.7,1034.4 L467.6,1032.7 L468.6,1031.0 L469.6,1029.3 L470.6,1027.6 L471.6,1025.9 L472.6,1024.3 L473.6,1022.6 L474.6,1020.9 L475.7,1019.2 L476.7,1017.6 L477.8,1015.9 L478.8,1014.3 L479.9,1012.6 L481.0,1011.0 L482.1,1009.4 L483.2,1007.8 L484.3,1006.1 L485.4,1004.5 L486.5,1002.9 L487.7,1001.3 L488.8,999.8 L490.0,998.2 L491.1,996.6 L492.3,995.0 L493.5,993.5 L494.7,991.9 L495.9,990.4 L497.1,988.9 L498.3,987.3 L499.6,985.8 L500.8,984.3 L502.1,982.8 L503.3,981.3 L504.6,979.8 L505.9,978.4 L507.2,976.9 L508.5,975.4 L509.8,974.0 L511.1,972.5 L512.4,971.1 L513.8,969.7 L515.1,968.3 L516.5,966.8 L517.8,965.4 L519.2,964.0 L520.6,962.7 L522.0,961.3 L523.4,959.9 L524.8,958.5 L526.2,957.2 L527.6,955.9 L529.1,954.5 L530.5,953.2 L531.9,951.9 L533.4,950.6 L534.9,949.3 L536.4,948.0 L537.9,946.8 L539.4,945.5 L540.9,944.2 L542.4,943.0 L543.9,941.7 L545.4,940.5 L547.0,939.2 L548.5,938.0 L550.1,936.7 L551.6,935.5 L553.2,934.2 L554.8,933.0 L556.3,931.7 L557.9,930.5 L559.5,929.2 L561.0,928.0 L562.6,926.7 L564.1,925.5 L565.7,924.3 L567.2,923.0 L568.8,921.8 L570.3,920.6 L571.9,919.4 L573.4,918.2 L575.0,917.0 L576.6,915.9 L578.1,914.8 L579.7,913.7 L581.3,912.6 L582.9,911.5 L584.4,910.5 L586.0,909.5 L587.7,908.5 L589.3,907.6 L591.0,906.6 L592.7,905.7 L594.4,904.9 L596.1,904.0 L597.9,903.1 L599.6,902.3 L601.4,901.5 L603.3,900.6 L605.1,899.8 L606.9,899.0 L608.8,898.1 L610.6,897.2 L612.5,896.3 L614.4,895.4 L616.2,894.5 L618.0,893.5 L619.8,892.5 L621.6,891.5 L623.4,890.6 L625.2,889.5 L626.9,888.5 L628.7,887.5 L630.4,886.5 L632.1,885.4 L633.9,884.4 L635.6,883.3 L637.3,882.3 L639.0,881.2 L640.8,880.2 L642.5,879.1 L644.2,878.0 L645.9,877.0 L647.6,875.9 L649.3,874.8 L651.0,873.7 L652.7,872.6 L654.4,871.5 L656.1,870.3 L657.8,869.2 L659.5,868.0 L661.1,866.9 L662.8,865.7 L664.4,864.6 L666.0,863.4 L667.7,862.3 L669.3,861.2 L670.9,860.1 L672.5,859.0 L674.1,857.9 L675.8,856.8 L677.4,855.8 L679.0,854.7 L680.7,853.7 L682.3,852.7 L684.0,851.7 L685.7,850.7 L687.4,849.7 L689.1,848.7 L690.9,847.8 L692.6,846.8 L694.3,845.9 L696.0,844.9 L697.8,844.0 L699.5,843.1 L701.3,842.1 L703.0,841.2 L704.8,840.3 L706.5,839.4 L708.3,838.5 L710.1,837.6 L711.8,836.7 L713.6,835.9 L715.4,835.0 L717.2,834.1 L718.9,833.3 L720.7,832.4 L722.5,831.6 L724.3,830.8 L726.1,829.9 L727.9,829.1 L729.7,828.3 L731.5,827.5 L733.3,826.7 L735.2,825.9 L737.0,825.1 L738.8,824.3 L740.6,823.5 L742.5,822.7 L744.2,821.9 L746.0,821.2 L747.9,820.5 L749.7,819.7 L751.5,819.0 L753.4,818.3 L755.2,817.6 L757.1,816.9 L759.0,816.2 L760.9,815.5 L762.8,814.8 L764.7,814.0 L766.6,813.3 L768.5,812.5 L770.4,811.8 L772.3,811.0 L774.2,810.1 L776.1,809.3 L778.0,808.4 L779.9,807.4 L781.7,806.5 L783.6,805.5 L785.3,804.5 L787.1,803.6 L788.9,802.6 L790.6,801.6 L792.3,800.6 L794.1,799.6 L795.8,798.7 L797.5,797.7 L799.2,796.8 L800.9,795.9 L802.5,795.0 L804.2,794.2 L805.9,793.4 L807.7,792.6 L809.4,791.8 L811.2,791.1 L813.0,790.4 L814.9,789.7 L816.7,789.0 L818.6,788.4 L820.4,787.7 L822.3,787.1 L824.2,786.4 L826.2,785.7 L828.1,785.1 L830.0,784.4 L832.0,783.6 L833.9,782.9 L835.9,782.1 L837.8,781.3 L839.7,780.4 L841.6,779.5 L843.5,778.6 L845.4,777.7 L847.2,776.7 L849.0,775.7 L850.7,774.7 L852.5,773.7 L854.2,772.8 L856.0,771.8 L857.7,770.8 L859.4,769.8 L861.1,768.9 L862.8,768.0 L864.5,767.1 L866.2,766.2 L867.9,765.3 L869.6,764.5 L871.3,763.7 L873.1,763.0 L874.9,762.2 L876.7,761.5 L878.5,760.8 L880.4,760.1 L882.2,759.4 L884.1,758.7 L886.0,758.0 L887.9,757.3 L889.8,756.6 L891.7,755.8 L893.6,755.1 L895.5,754.3 L897.5,753.5 L899.4,752.7 L901.3,751.8 L903.2,750.9 L905.1,750.0 L906.9,749.1 L908.7,748.1 L910.5,747.1 L912.3,746.1 L914.1,745.1 L915.8,744.1 L917.6,743.1 L919.3,742.1 L921.0,741.1 L922.7,740.2 L924.4,739.2 L926.1,738.2 L927.8,737.3 L929.5,736.4 L931.2,735.5 L932.9,734.6 L934.7,733.8 L936.5,732.9 L938.2,732.1 L940.0,731.3 L941.8,730.5 L943.6,729.7 L945.4,728.9 L947.3,728.1 L949.1,727.3 L951.0,726.4 L952.8,725.6 L954.7,724.8 L956.5,724.0 L958.4,723.2 L960.2,722.3 L962.1,721.4 L963.9,720.6 L965.8,719.7 L967.6,718.8 L969.4,717.8 L971.2,716.9 L973.0,716.0 L974.8,715.1 L976.6,714.1 L978.3,713.2 L980.1,712.2 L981.9,711.3 L983.6,710.3 L985.4,709.4 L987.2,708.4 L988.9,707.5 L990.7,706.6 L992.4,705.6 L994.2,704.7 L996.0,703.8 L997.7,702.8 L999.5,701.9 L1001.3,700.9 L1003.1,700.0 L1004.8,699.1 L1006.6,698.1 L1008.3,697.2 L1010.1,696.2 L1011.9,695.3 L1013.6,694.3 L1015.4,693.4 L1017.1,692.5 L1018.9,691.6 L1020.6,690.7 L1022.4,689.8 L1024.1,688.9 L1025.9,688.0 L1027.6,687.1 L1029.4,686.3 L1031.2,685.5 L1033.0,684.6 L1034.8,683.8 L1036.6,683.0 L1038.4,682.2 L1040.2,681.4 L1042.0,680.5 L1043.9,679.7 L1045.7,678.9 L1047.5,678.1 L1049.4,677.3 L1051.2,676.4 L1053.1,675.6 L1054.9,674.7 L1056.8,673.9 L1058.6,673.0 L1060.4,672.1 L1062.2,671.2 L1064.0,670.4 L1065.8,669.5 L1067.6,668.6 L1069.4,667.7 L1071.2,666.8 L1073.0,665.9 L1074.8,664.9 L1076.6,664.0 L1078.4,663.1 L1080.2,662.1 L1082.0,661.2 L1083.8,660.2 L1085.6,659.3 L1087.4,658.3 L1089.2,657.3 L1090.9,656.3 L1092.7,655.3 L1094.5,654.2 L1096.2,653.2 L1098.0,652.1 L1099.7,651.1 L1101.4,650.0 L1103.1,648.9 L1104.8,647.9 L1106.5,646.8 L1108.2,645.7 L1109.9,644.6 L1111.6,643.5 L1113.3,642.5 L1115.0,641.4 L1116.7,640.3 L1118.3,639.2 L1120.0,638.2 L1121.7,637.1 L1123.4,636.0 L1125.1,634.9 L1126.8,633.8 L1128.5,632.7 L1130.2,631.6 L1131.8,630.5 L1133.5,629.4 L1135.2,628.3 L1136.9,627.2 L1138.5,626.1 L1140.2,625.0 L1141.8,623.9 L1143.5,622.9 L1145.2,621.8 L1146.8,620.7 L1148.5,619.7 L1150.2,618.6 L1151.8,617.6 L1153.5,616.6 L1155.2,615.6 L1156.8,614.6 L1158.5,613.6 L1160.2,612.6 L1162.0,611.6 L1163.7,610.6 L1165.4,609.7 L1167.2,608.7 L1169.0,607.7 L1170.7,606.7 L1172.5,605.7 L1174.3,604.7 L1176.0,603.7 L1177.8,602.7 L1179.6,601.6 L1181.3,600.5 L1183.1,599.4 L1184.8,598.3 L1186.6,597.2 L1188.3,596.0 L1189.9,594.9 L1191.6,593.7 L1193.3,592.5 L1194.9,591.3 L1196.6,590.1 L1198.2,588.9 L1199.8,587.7 L1201.4,586.4 L1203.0,585.2 L1204.6,584.0 L1206.2,582.8 L1207.8,581.6 L1209.4,580.4 L1210.9,579.2 L1212.5,578.0 L1214.1,576.9 L1215.7,575.7 L1217.3,574.6 L1218.9,573.4 L1220.5,572.3 L1222.1,571.2 L1223.7,570.0 L1225.4,568.9 L1227.0,567.8 L1228.7,566.6 L1230.3,565.5 L1232.0,564.3 L1233.7,563.2 L1235.3,562.0 L1237.0,560.8 L1238.6,559.6 L1240.3,558.4 L1241.9,557.2 L1243.6,555.9 L1245.2,554.7 L1246.8,553.4 L1248.5,552.1 L1250.1,550.7 L1251.6,549.3 L1253.2,548.0 L1254.7,546.6 L1256.2,545.2 L1257.7,543.8 L1259.2,542.4 L1260.7,541.0 L1262.1,539.6 L1263.5,538.2 L1265.0,536.8 L1266.4,535.4 L1267.8,534.0 L1269.3,532.6 L1270.7,531.2 L1272.1,529.9 L1273.5,528.5 L1275.0,527.2 L1276.4,525.9 L1277.8,524.5 L1279.3,523.3 L1280.7,522.0 L1282.2,520.7 L1283.7,519.4 L1285.2,518.1 L1286.7,516.8 L1288.2,515.5 L1289.8,514.3 L1291.3,513.0 L1292.8,511.7 L1294.4,510.5 L1295.9,509.2 L1297.5,507.9 L1299.0,506.6 L1300.6,505.3 L1302.1,504.0 L1303.6,502.7 L1305.2,501.4 L1306.7,500.1 L1308.3,498.8 L1309.8,497.4 L1311.3,496.1 L1312.8,494.8 L1314.3,493.4 L1315.8,492.1 L1317.3,490.7 L1318.8,489.4 L1320.3,488.0 L1321.8,486.7 L1323.3,485.3 L1324.8,483.9 L1326.2,482.6 L1327.7,481.2 L1329.2,479.8 L1330.7,478.5 L1332.1,477.1 L1333.6,475.8 L1335.1,474.4 L1336.5,473.0 L1338.0,471.7 L1339.4,470.3 L1340.9,469.0 L1342.4,467.6 L1343.8,466.3 L1345.3,465.0 L1346.8,463.7 L1348.2,462.4 L1349.7,461.0 L1351.2,459.7 L1352.7,458.4 L1354.2,457.0 L1355.7,455.7 L1357.2,454.4 L1358.7,453.0 L1360.2,451.6 L1361.7,450.3 L1363.2,448.9 L1364.7,447.5 L1366.2,446.1 L1367.7,444.7 L1369.2,443.2 L1370.6,441.8 L1372.1,440.3 L1373.5,438.8 L1374.9,437.3 L1376.3,435.7 L1377.7,434.2 L1379.1,432.6 L1380.4,431.1 L1381.7,429.5 L1383.0,427.9 L1384.3,426.4 L1385.6,424.8 L1386.9,423.2 L1388.1,421.6 L1389.4,420.1 L1390.7,418.5 L1391.9,416.9 L1393.2,415.4 L1394.4,413.8 L1395.6,412.3 L1396.9,410.7 L1398.1,409.2 L1399.4,407.7 L1400.6,406.1 L1401.9,404.6 L1403.1,403.1 L1404.4,401.7 L1405.7,400.2 L1407.0,398.7 L1408.3,397.2 L1409.6,395.8 L1410.9,394.3 L1412.3,392.8 L1413.6,391.4 L1415.0,389.9 L1416.3,388.4 L1417.7,387.0 L1419.0,385.5 L1420.4,384.0 L1421.7,382.6 L1423.1,381.1 L1424.4,379.6 L1425.8,378.1 L1427.2,376.6 L1428.5,375.1 L1429.9,373.6 L1431.2,372.1 L1432.6,370.6 L1433.9,369.0 L1435.2,367.5 L1436.6,365.9 L1437.8,364.4 L1439.1,362.9 L1440.4,361.4 L1441.7,359.8 L1443.0,358.3 L1444.3,356.7 L1445.6,355.2 L1446.9,353.6 L1448.2,352.1 L1449.5,350.5 L1450.7,348.9 L1452.0,347.4 L1453.3,345.8 L1454.5,344.2 L1455.8,342.6 L1457.1,341.0 L1458.3,339.4 L1459.5,337.8 L1460.8,336.2 L1462.0,334.6 L1463.2,332.9 L1464.4,331.3 L1465.6,329.7 L1466.8,328.0 L1468.0,326.3 L1469.2,324.6 L1470.3,322.9 L1471.5,321.2 L1472.6,319.5 L1473.7,317.8 L1474.8,316.1 L1475.9,314.4 L1477.0,312.7 L1478.1,310.9 L1479.2,309.2 L1480.2,307.5 L1481.3,305.8 L1482.3,304.1 L1483.4,302.3 L1484.4,300.6 L1485.4,298.9 L1486.5,297.2 L1487.5,295.5 L1488.6,293.8 L1489.6,292.1 L1490.6,290.4 L1491.7,288.7 L1492.7,287.0 L1493.7,285.3 L1494.8,283.6 L1495.8,281.9 L1496.9,280.3 L1497.9,278.6 L1499.0,276.9 L1500.1,275.3 L1501.2,273.6 L1502.2,272.0 L1503.3,270.3 L1504.4,268.6 L1505.5,267.0 L1506.6,265.3 L1507.7,263.6 L1508.8,262.0 L1509.9,260.3 L1511.0,258.7 L1512.1,257.0 L1513.3,255.4 L1514.4,253.7 L1515.2,252.5 L1506.0,246.3 L1505.2,247.5 L1504.1,249.2 L1503.0,250.9 L1501.8,252.5 L1500.7,254.2 L1499.6,255.9 L1498.5,257.5 L1497.4,259.2 L1496.3,260.9 L1495.2,262.6 L1494.1,264.2 L1493.0,265.9 L1491.9,267.6 L1490.8,269.3 L1489.7,271.0 L1488.6,272.7 L1487.6,274.4 L1486.5,276.1 L1485.4,277.8 L1484.4,279.5 L1483.3,281.2 L1482.3,283.0 L1481.3,284.7 L1480.2,286.4 L1479.2,288.1 L1478.2,289.8 L1477.1,291.5 L1476.1,293.2 L1475.0,294.9 L1474.0,296.6 L1473.0,298.4 L1471.9,300.0 L1470.9,301.7 L1469.8,303.4 L1468.8,305.1 L1467.7,306.8 L1466.7,308.5 L1465.6,310.1 L1464.5,311.8 L1463.4,313.4 L1462.3,315.1 L1461.2,316.7 L1460.1,318.3 L1458.9,319.9 L1457.8,321.5 L1456.6,323.1 L1455.4,324.7 L1454.3,326.3 L1453.1,327.8 L1451.9,329.4 L1450.7,331.0 L1449.4,332.6 L1448.2,334.1 L1447.0,335.7 L1445.8,337.2 L1444.5,338.8 L1443.3,340.3 L1442.0,341.9 L1440.8,343.4 L1439.5,344.9 L1438.2,346.5 L1437.0,348.0 L1435.7,349.5 L1434.4,351.0 L1433.1,352.6 L1431.8,354.1 L1430.6,355.6 L1429.3,357.1 L1428.0,358.7 L1426.7,360.2 L1425.4,361.7 L1424.1,363.2 L1422.8,364.6 L1421.5,366.1 L1420.1,367.6 L1418.8,369.1 L1417.5,370.5 L1416.1,372.0 L1414.8,373.5 L1413.4,374.9 L1412.1,376.4 L1410.7,377.9 L1409.4,379.3 L1408.0,380.8 L1406.6,382.3 L1405.3,383.8 L1403.9,385.2 L1402.6,386.7 L1401.2,388.2 L1399.9,389.7 L1398.5,391.3 L1397.2,392.8 L1395.9,394.3 L1394.6,395.9 L1393.3,397.4 L1392.0,399.0 L1390.7,400.5 L1389.4,402.1 L1388.2,403.7 L1386.9,405.2 L1385.6,406.8 L1384.4,408.4 L1383.1,409.9 L1381.9,411.5 L1380.6,413.1 L1379.4,414.6 L1378.2,416.2 L1376.9,417.7 L1375.6,419.2 L1374.4,420.8 L1373.1,422.3 L1371.8,423.8 L1370.6,425.3 L1369.3,426.7 L1368.0,428.2 L1366.6,429.6 L1365.3,431.0 L1364.0,432.4 L1362.6,433.8 L1361.2,435.2 L1359.8,436.6 L1358.4,437.9 L1357.0,439.3 L1355.5,440.6 L1354.1,442.0 L1352.6,443.3 L1351.2,444.6 L1349.7,446.0 L1348.2,447.3 L1346.7,448.6 L1345.2,449.9 L1343.7,451.3 L1342.2,452.6 L1340.7,453.9 L1339.2,455.3 L1337.7,456.6 L1336.2,458.0 L1334.7,459.3 L1333.3,460.7 L1331.8,462.1 L1330.3,463.4 L1328.8,464.8 L1327.4,466.1 L1325.9,467.5 L1324.4,468.9 L1323.0,470.2 L1321.5,471.6 L1320.1,472.9 L1318.6,474.3 L1317.1,475.6 L1315.7,477.0 L1314.2,478.3 L1312.7,479.7 L1311.3,481.0 L1309.8,482.4 L1308.3,483.7 L1306.8,485.0 L1305.3,486.4 L1303.9,487.7 L1302.4,489.0 L1300.9,490.3 L1299.4,491.6 L1297.9,492.9 L1296.4,494.1 L1294.9,495.4 L1293.3,496.7 L1291.8,498.0 L1290.3,499.3 L1288.7,500.5 L1287.2,501.8 L1285.7,503.1 L1284.1,504.4 L1282.6,505.6 L1281.0,506.9 L1279.5,508.2 L1277.9,509.5 L1276.4,510.8 L1274.9,512.1 L1273.3,513.5 L1271.8,514.8 L1270.3,516.2 L1268.8,517.5 L1267.3,518.9 L1265.8,520.3 L1264.3,521.7 L1262.9,523.1 L1261.4,524.5 L1260.0,525.9 L1258.5,527.3 L1257.1,528.7 L1255.7,530.1 L1254.2,531.5 L1252.8,532.9 L1251.4,534.2 L1250.0,535.6 L1248.5,536.9 L1247.1,538.3 L1245.6,539.6 L1244.2,540.9 L1242.7,542.2 L1241.3,543.4 L1239.8,544.7 L1238.3,545.9 L1236.7,547.1 L1235.2,548.3 L1233.6,549.5 L1232.1,550.6 L1230.5,551.8 L1228.9,552.9 L1227.3,554.1 L1225.6,555.2 L1224.0,556.4 L1222.4,557.5 L1220.7,558.6 L1219.1,559.8 L1217.4,560.9 L1215.8,562.0 L1214.1,563.2 L1212.5,564.3 L1210.8,565.5 L1209.2,566.7 L1207.5,567.9 L1205.9,569.1 L1204.3,570.3 L1202.6,571.5 L1201.0,572.7 L1199.4,573.9 L1197.8,575.1 L1196.2,576.3 L1194.7,577.5 L1193.1,578.7 L1191.5,579.9 L1189.9,581.1 L1188.3,582.3 L1186.7,583.5 L1185.1,584.6 L1183.5,585.8 L1181.9,586.9 L1180.3,588.0 L1178.7,589.1 L1177.1,590.2 L1175.5,591.2 L1173.8,592.3 L1172.2,593.3 L1170.5,594.3 L1168.8,595.3 L1167.1,596.3 L1165.4,597.3 L1163.6,598.3 L1161.9,599.2 L1160.2,600.2 L1158.4,601.2 L1156.7,602.2 L1154.9,603.1 L1153.1,604.1 L1151.4,605.1 L1149.6,606.2 L1147.9,607.2 L1146.1,608.2 L1144.4,609.3 L1142.6,610.4 L1140.9,611.4 L1139.2,612.5 L1137.5,613.6 L1135.8,614.7 L1134.2,615.8 L1132.5,616.9 L1130.8,618.0 L1129.1,619.1 L1127.4,620.2 L1125.8,621.3 L1124.1,622.4 L1122.4,623.5 L1120.8,624.6 L1119.1,625.6 L1117.4,626.7 L1115.8,627.8 L1114.1,628.9 L1112.4,629.9 L1110.7,631.0 L1109.0,632.1 L1107.3,633.2 L1105.7,634.3 L1104.0,635.4 L1102.3,636.4 L1100.6,637.5 L1098.9,638.6 L1097.3,639.6 L1095.6,640.7 L1093.9,641.8 L1092.2,642.8 L1090.6,643.8 L1088.9,644.9 L1087.2,645.9 L1085.5,646.9 L1083.8,647.8 L1082.1,648.8 L1080.4,649.8 L1078.6,650.7 L1076.9,651.7 L1075.2,652.6 L1073.4,653.6 L1071.7,654.5 L1069.9,655.4 L1068.2,656.3 L1066.4,657.2 L1064.6,658.1 L1062.8,659.0 L1061.1,659.9 L1059.3,660.8 L1057.5,661.7 L1055.7,662.5 L1053.9,663.4 L1052.1,664.3 L1050.4,665.1 L1048.6,666.0 L1046.8,666.8 L1045.0,667.7 L1043.2,668.5 L1041.4,669.3 L1039.6,670.1 L1037.8,670.9 L1035.9,671.7 L1034.1,672.6 L1032.3,673.4 L1030.4,674.2 L1028.6,675.0 L1026.7,675.9 L1024.9,676.7 L1023.0,677.6 L1021.2,678.4 L1019.4,679.3 L1017.6,680.2 L1015.7,681.1 L1013.9,682.0 L1012.1,683.0 L1010.4,683.9 L1008.6,684.8 L1006.8,685.8 L1005.0,686.7 L1003.3,687.7 L1001.5,688.6 L999.7,689.5 L998.0,690.5 L996.2,691.4 L994.4,692.4 L992.7,693.3 L990.9,694.2 L989.2,695.2 L987.4,696.1 L985.6,697.1 L983.8,698.0 L982.1,698.9 L980.3,699.9 L978.5,700.8 L976.8,701.8 L975.0,702.7 L973.3,703.7 L971.5,704.6 L969.8,705.5 L968.0,706.5 L966.2,707.4 L964.5,708.3 L962.7,709.2 L961.0,710.1 L959.2,711.0 L957.5,711.9 L955.7,712.7 L953.9,713.6 L952.1,714.4 L950.4,715.2 L948.5,716.0 L946.7,716.8 L944.9,717.6 L943.1,718.4 L941.2,719.2 L939.4,720.0 L937.6,720.8 L935.7,721.7 L933.9,722.5 L932.0,723.3 L930.1,724.2 L928.3,725.0 L926.4,725.9 L924.6,726.8 L922.8,727.8 L920.9,728.7 L919.1,729.7 L917.4,730.7 L915.6,731.7 L913.9,732.7 L912.1,733.7 L910.4,734.7 L908.7,735.7 L907.0,736.7 L905.2,737.7 L903.5,738.6 L901.8,739.6 L900.1,740.5 L898.4,741.4 L896.7,742.3 L895.0,743.1 L893.2,743.9 L891.5,744.7 L889.7,745.5 L887.9,746.2 L886.1,746.9 L884.2,747.7 L882.4,748.4 L880.5,749.1 L878.7,749.8 L876.8,750.5 L874.9,751.2 L873.0,751.9 L871.1,752.6 L869.2,753.4 L867.2,754.1 L865.3,754.9 L863.4,755.7 L861.5,756.6 L859.6,757.5 L857.8,758.4 L856.0,759.4 L854.2,760.4 L852.4,761.3 L850.6,762.3 L848.9,763.3 L847.1,764.3 L845.4,765.3 L843.7,766.3 L842.0,767.2 L840.3,768.2 L838.6,769.1 L836.8,770.0 L835.1,770.9 L833.4,771.7 L831.7,772.5 L830.0,773.3 L828.2,774.0 L826.4,774.8 L824.6,775.5 L822.7,776.1 L820.9,776.8 L819.0,777.5 L817.1,778.1 L815.2,778.8 L813.3,779.5 L811.4,780.1 L809.5,780.8 L807.5,781.5 L805.6,782.2 L803.7,783.0 L801.8,783.8 L799.8,784.6 L797.9,785.4 L796.0,786.3 L794.2,787.3 L792.3,788.2 L790.5,789.2 L788.8,790.2 L787.0,791.1 L785.2,792.1 L783.5,793.1 L781.8,794.1 L780.1,795.1 L778.3,796.0 L776.6,797.0 L774.9,797.9 L773.2,798.8 L771.5,799.7 L769.8,800.5 L768.1,801.3 L766.3,802.1 L764.5,802.9 L762.7,803.7 L760.9,804.4 L759.0,805.1 L757.2,805.9 L755.4,806.6 L753.5,807.3 L751.6,808.0 L749.7,808.7 L747.9,809.4 L746.0,810.1 L744.1,810.8 L742.2,811.6 L740.3,812.3 L738.4,813.1 L736.5,813.9 L734.7,814.7 L732.8,815.5 L731.0,816.3 L729.1,817.1 L727.3,817.9 L725.4,818.7 L723.6,819.5 L721.8,820.3 L719.9,821.2 L718.1,822.0 L716.2,822.8 L714.4,823.7 L712.6,824.5 L710.8,825.4 L708.9,826.3 L707.1,827.2 L705.3,828.1 L703.5,828.9 L701.7,829.9 L699.9,830.8 L698.1,831.7 L696.3,832.6 L694.5,833.5 L692.7,834.5 L690.9,835.4 L689.2,836.4 L687.4,837.3 L685.6,838.3 L683.8,839.3 L682.1,840.3 L680.3,841.3 L678.5,842.3 L676.8,843.3 L675.0,844.3 L673.3,845.4 L671.5,846.5 L669.8,847.5 L668.1,848.7 L666.4,849.8 L664.7,850.9 L663.0,852.0 L661.3,853.2 L659.7,854.3 L658.0,855.5 L656.4,856.6 L654.8,857.8 L653.1,858.9 L651.5,860.0 L649.9,861.2 L648.2,862.3 L646.6,863.4 L645.0,864.5 L643.4,865.5 L641.7,866.6 L640.0,867.7 L638.3,868.7 L636.6,869.8 L634.9,870.8 L633.2,871.9 L631.6,872.9 L629.9,874.0 L628.2,875.0 L626.5,876.1 L624.8,877.1 L623.1,878.1 L621.4,879.1 L619.7,880.1 L618.0,881.1 L616.3,882.1 L614.6,883.1 L612.8,884.0 L611.2,885.0 L609.5,885.9 L607.7,886.8 L606.0,887.7 L604.2,888.5 L602.5,889.4 L600.7,890.2 L598.9,891.0 L597.0,891.9 L595.2,892.7 L593.4,893.5 L591.5,894.4 L589.7,895.3 L587.8,896.2 L586.0,897.1 L584.1,898.1 L582.3,899.1 L580.5,900.1 L578.7,901.2 L576.9,902.2 L575.1,903.4 L573.4,904.5 L571.7,905.7 L570.0,906.9 L568.4,908.1 L566.7,909.3 L565.1,910.5 L563.5,911.7 L561.9,913.0 L560.3,914.2 L558.7,915.5 L557.1,916.7 L555.6,918.0 L554.0,919.2 L552.4,920.5 L550.9,921.7 L549.3,923.0 L547.8,924.2 L546.2,925.5 L544.6,926.7 L543.1,928.0 L541.5,929.2 L539.9,930.5 L538.4,931.7 L536.8,933.0 L535.2,934.3 L533.7,935.6 L532.1,936.9 L530.6,938.2 L529.0,939.5 L527.5,940.8 L526.0,942.2 L524.4,943.5 L522.9,944.9 L521.4,946.2 L519.9,947.6 L518.4,949.0 L517.0,950.4 L515.5,951.8 L514.1,953.2 L512.6,954.7 L511.2,956.1 L509.8,957.5 L508.4,959.0 L507.0,960.5 L505.6,961.9 L504.2,963.4 L502.8,964.9 L501.4,966.4 L500.1,967.9 L498.7,969.4 L497.4,971.0 L496.1,972.5 L494.8,974.0 L493.4,975.6 L492.2,977.2 L490.9,978.7 L489.6,980.3 L488.3,981.9 L487.1,983.5 L485.8,985.1 L484.6,986.7 L483.4,988.3 L482.2,990.0 L481.0,991.6 L479.8,993.2 L478.6,994.9 L477.4,996.5 L476.3,998.2 L475.1,999.9 L474.0,1001.5 L472.9,1003.2 L471.8,1004.9 L470.7,1006.6 L469.6,1008.3 L468.5,1010.0 L467.4,1011.7 L466.3,1013.5 L465.3,1015.2 L464.2,1016.9 L463.2,1018.6 L462.2,1020.4 L461.2,1022.1 L460.2,1023.9 L459.2,1025.6 L458.2,1027.4 L457.2,1029.1 L456.2,1030.9 L455.3,1032.7 L454.3,1034.5 L453.4,1036.2 L452.4,1038.0 L451.5,1039.8 L450.6,1041.6 L449.7,1043.4 L448.8,1045.3 L447.9,1047.1 L447.0,1048.9 L446.2,1050.8 L445.4,1052.6 L444.5,1054.4 L443.7,1056.3 L442.9,1058.1 L442.1,1060.0 L441.4,1061.9 L440.6,1063.7 L439.8,1065.6 L439.1,1067.5 L438.3,1069.3 L437.6,1071.2 L436.9,1073.1 L436.2,1075.0 L435.5,1076.9 L434.8,1078.8 L434.2,1080.7 L433.5,1082.6 L432.9,1084.5 L432.3,1086.4 L431.6,1088.3 L431.0,1090.2 L430.4,1092.2 L429.8,1094.1 L429.2,1096.0 L428.7,1097.9 L428.1,1099.8 L427.5,1101.8 L427.0,1103.7 L426.4,1105.6 L425.8,1107.5 L425.3,1109.5 L424.7,1111.4 L424.2,1113.3 L423.7,1115.2 L423.1,1117.2 L422.6,1119.1 L422.0,1121.0 L421.5,1122.9 L421.0,1124.9 L420.4,1126.8 L419.9,1128.7 L419.4,1130.7 L418.9,1132.6 L418.4,1134.5 L417.9,1136.5 L417.4,1138.4 L416.9,1140.4 L416.4,1142.3 L416.0,1144.3 L415.5,1146.2 L415.1,1148.2 L414.7,1150.1 L414.3,1152.1 L413.9,1154.1 L413.5,1156.0 L413.1,1158.0 L412.7,1159.9 L412.4,1161.9 L412.1,1163.9 L411.7,1165.8 L411.4,1167.8 L411.1,1169.8 L410.8,1171.8 L410.4,1173.7 L410.1,1175.7 L409.8,1177.7 L409.5,1179.6 L409.2,1181.6 L408.9,1183.6 L408.6,1185.6 L408.3,1187.5 L408.0,1189.5 L407.7,1191.5 L407.4,1193.5 L407.1,1195.5 L406.9,1197.4 L406.6,1199.4 L406.3,1201.4 L406.0,1203.4 L405.7,1205.4 L405.4,1207.3 L405.0,1209.3 L404.7,1211.3 L404.4,1213.3 L404.1,1215.2 L403.8,1217.2 L403.5,1219.2 L403.1,1221.2 L402.8,1223.1 L402.5,1225.1 L402.2,1227.1 L401.9,1229.1 L401.5,1231.0 L401.2,1233.0 L400.9,1235.0 L400.6,1237.0 L400.3,1238.9 L399.9,1240.9 L399.6,1242.9 L399.3,1244.9 L399.0,1246.8 L398.7,1248.8 L398.4,1250.8 L398.1,1252.8 L397.8,1254.7 L397.6,1256.7 L397.3,1258.7 L397.0,1260.6 L396.7,1262.6 L396.5,1264.6 L396.2,1266.6 L396.0,1268.6 L395.7,1270.5 L395.5,1272.5 L395.2,1274.5 L394.9,1276.5 L394.7,1278.5 L394.5,1280.4 L394.2,1282.4 L394.0,1284.4 L393.7,1286.4 L393.5,1288.4 L393.2,1290.4 L393.0,1292.4 L392.7,1294.3 L392.5,1296.3 L392.2,1298.3 L391.9,1300.3 L391.7,1302.3 L391.4,1304.3 L391.2,1306.3 L390.9,1308.2 L390.6,1310.2 L390.4,1312.2 L390.1,1314.2 L389.8,1316.2 L389.5,1318.2 L389.3,1320.2 L389.0,1322.1 L388.7,1324.1 L388.4,1326.1 L388.1,1328.1 L387.8,1330.1 L387.6,1332.0 L387.3,1334.0 L387.0,1336.0 L386.7,1338.0 L386.4,1340.0 L386.1,1341.9 L385.8,1343.9 L385.5,1345.9 L385.2,1347.9 L384.9,1349.9 L384.6,1351.8 L384.4,1353.8 L384.1,1355.8 L383.8,1357.8 L383.5,1359.7 L383.2,1361.7 L382.9,1363.7 L382.6,1365.7 L382.4,1367.7 L382.1,1369.6 L381.8,1371.6 L381.5,1373.6 L381.3,1375.6 L381.0,1377.5 L380.8,1379.5 L380.5,1381.5 L380.2,1383.5 L380.0,1385.5 L379.7,1387.5 L379.5,1389.4 L379.2,1391.4 L378.9,1393.4 L378.6,1395.4 L378.3,1397.4 L378.1,1399.4 L377.7,1401.4 L377.4,1403.4 L377.1,1405.3 L376.7,1407.3 L376.4,1409.3 L376.0,1411.3 L375.7,1413.2 L375.3,1415.2 L374.9,1417.2 L374.6,1419.1 L374.1,1421.1 L373.7,1423.0 L373.3,1425.0 L372.8,1426.9 L372.3,1428.9 L371.7,1430.8 L371.2,1432.7 L370.6,1434.6 L370.0,1436.5 L369.4,1438.3 L368.7,1440.2 L368.0,1442.0 L367.3,1443.8 L366.6,1445.6 L365.8,1447.5 L365.0,1449.3 L364.2,1451.0 L363.3,1452.8 L362.5,1454.5 L361.6,1456.2 L360.6,1457.8 L359.6,1459.4 L358.6,1460.8 L357.5,1462.3 L356.3,1463.7 L355.1,1465.1 L353.9,1466.4 L352.6,1467.7 L351.2,1468.9 L349.8,1470.2 L348.3,1471.5 L346.9,1472.7 L345.5,1473.8 L344.1,1474.8 L342.9,1475.7 L341.6,1476.4 L339.8,1477.1 L338.1,1477.8 L336.4,1478.4 L334.8,1479.0 L333.2,1479.4 L331.7,1479.8Z"/><circle cx="331.7" cy="1484.0" r="4.2"/><circle cx="1510.6" cy="249.4" r="5.5"/></g>
<g fill="#f00"><circle cx="331.7" cy="1484.0" r="14.1"/><circle cx="363.1" cy="1464.0" r="14.1"/><circle cx="394.6" cy="1315.0" r="14.1"/><circle cx="426.0" cy="1125.1" r="14.1"/><circle cx="457.5" cy="1040.0" r="14.1"/><circle cx="488.9" cy="990.3" r="14.1"/><circle cx="520.3" cy="955.0" r="14.1"/><circle cx="551.8" cy="928.2" r="14.1"/><circle cx="583.2" cy="904.8" r="14.1"/><circle cx="614.7" cy="889.2" r="14.1"/><circle cx="646.1" cy="870.3" r="14.1"/><circle cx="677.5" cy="849.2" r="14.1"/><circle cx="709.0" cy="832.2" r="14.1"/><circle cx="740.4" cy="817.9" r="14.1"/><circle cx="771.9" cy="805.4" r="14.1"/><circle cx="803.3" cy="788.8" r="14.1"/><circle cx="834.7" cy="776.9" r="14.1"/><circle cx="866.2" cy="760.3" r="14.1"/><circle cx="897.6" cy="747.7" r="14.1"/><circle cx="929.1" cy="730.6" r="14.1"/><circle cx="960.5" cy="716.3" r="14.1"/><circle cx="991.9" cy="699.8" r="14.1"/><circle cx="1023.4" cy="683.3" r="14.1"/><circle cx="1054.8" cy="668.9" r="14.1"/><circle cx="1086.3" cy="652.7" r="14.1"/><circle cx="1117.7" cy="633.1" r="14.1"/><circle cx="1149.1" cy="612.8" r="14.1"/><circle cx="1180.6" cy="594.5" r="14.1"/><circle cx="1212.0" cy="571.5" r="14.1"/><circle cx="1243.5" cy="548.9" r="14.1"/><circle cx="1274.9" cy="519.6" r="14.1"/><circle cx="1306.3" cy="493.0" r="14.1"/><circle cx="1337.8" cy="464.2" r="14.1"/><circle cx="1369.2" cy="435.1" r="14.1"/><circle cx="1400.7" cy="397.4" r="14.1"/><circle cx="1432.1" cy="362.5" r="14.1"/><circle cx="1463.5" cy="323.0" r="14.1"/><circle cx="1495.0" cy="273.0" r="14.1"/></g>
<g fill="#0f0"><path d="M333.7,1488.6 L335.6,1488.2 L337.5,1487.9 L339.4,1487.6 L341.3,1487.3 L343.2,1487.0 L345.1,1486.8 L347.1,1486.6 L349.0,1486.5 L350.9,1486.3 L352.9,1486.2 L354.8,1486.2 L356.6,1486.3 L358.5,1486.5 L360.3,1486.7 L362.2,1487.0 L364.2,1487.3 L366.1,1487.5 L368.1,1487.8 L370.2,1488.0 L372.3,1488.1 L374.4,1488.2 L376.6,1488.2 L378.7,1488.2 L380.8,1488.2 L382.9,1488.2 L385.0,1488.1 L387.0,1488.0 L389.1,1487.8 L391.1,1487.7 L393.2,1487.4 L395.2,1487.2 L397.2,1487.0 L399.2,1486.7 L401.2,1486.5 L403.2,1486.2 L405.3,1485.9 L407.4,1485.6 L409.4,1485.3 L411.5,1484.9 L413.6,1484.4 L415.7,1483.9 L417.8,1483.3 L419.9,1482.7 L421.9,1482.0 L424.0,1481.2 L426.8,1480.0 L429.2,1478.2 L430.9,1476.4 L432.3,1474.8 L433.6,1473.4 L434.9,1472.1 L436.3,1470.6 L437.8,1468.9 L439.3,1467.0 L440.7,1464.9 L441.9,1462.8 L443.0,1460.3 L443.8,1457.8 L444.3,1454.8 L444.7,1452.5 L445.1,1450.4 L445.4,1448.4 L445.8,1446.5 L446.2,1444.7 L446.6,1442.9 L447.1,1441.0 L447.5,1439.1 L447.9,1437.1 L448.4,1435.1 L448.8,1433.1 L449.2,1431.0 L449.6,1428.9 L449.9,1426.8 L450.3,1424.8 L450.6,1422.7 L450.9,1420.7 L451.2,1418.6 L451.5,1416.6 L451.7,1414.6 L452.0,1412.6 L452.3,1410.5 L452.6,1408.5 L452.8,1406.5 L453.0,1404.4 L453.3,1402.4 L453.5,1400.3 L453.7,1398.3 L453.9,1396.3 L454.1,1394.3 L454.4,1392.3 L454.6,1390.3 L454.8,1388.3 L455.0,1386.3 L455.2,1384.3 L455.4,1382.4 L455.6,1380.4 L455.8,1378.4 L456.1,1376.5 L456.3,1374.5 L456.5,1372.5 L456.8,1370.5 L457.0,1368.5 L457.2,1366.6 L457.4,1364.6 L457.7,1362.6 L457.9,1360.6 L458.1,1358.6 L458.4,1356.6 L458.6,1354.7 L458.8,1352.7 L459.0,1350.7 L459.3,1348.7 L459.5,1346.7 L459.7,1344.7 L460.0,1342.7 L460.2,1340.8 L460.4,1338.8 L460.7,1336.8 L460.9,1334.8 L461.1,1332.8 L461.4,1330.8 L461.6,1328.8 L461.8,1326.8 L462.1,1324.8 L462.3,1322.9 L462.5,1320.9 L462.7,1318.9 L463.0,1316.9 L463.2,1314.9 L463.4,1312.9 L463.7,1310.9 L463.9,1308.9 L464.1,1307.0 L464.3,1305.0 L464.6,1303.0 L464.8,1301.0 L465.0,1299.0 L465.3,1297.0 L465.5,1295.1 L465.7,1293.1 L465.9,1291.1 L466.2,1289.1 L466.4,1287.1 L466.7,1285.1 L466.9,1283.2 L467.1,1281.2 L467.4,1279.2 L467.6,1277.2 L467.8,1275.2 L468.1,1273.2 L468.3,1271.3 L468.6,1269.3 L468.8,1267.3 L469.0,1265.3 L469.3,1263.3 L469.5,1261.4 L469.8,1259.4 L470.0,1257.4 L470.2,1255.4 L470.5,1253.5 L470.7,1251.5 L471.0,1249.5 L471.3,1247.6 L471.5,1245.6 L471.8,1243.7 L472.1,1241.7 L472.3,1239.7 L472.6,1237.8 L472.9,1235.8 L473.2,1233.8 L473.4,1231.8 L473.7,1229.9 L474.0,1227.9 L474.3,1225.9 L474.6,1223.9 L474.8,1222.0 L475.1,1220.0 L475.4,1218.0 L475.7,1216.1 L476.0,1214.1 L476.3,1212.1 L476.6,1210.2 L476.9,1208.2 L477.2,1206.3 L477.5,1204.3 L477.8,1202.3 L478.1,1200.4 L478.4,1198.4 L478.8,1196.5 L479.1,1194.5 L479.4,1192.6 L479.7,1190.6 L480.1,1188.7 L480.4,1186.7 L480.8,1184.8 L481.1,1182.9 L481.5,1180.9 L481.9,1179.0 L482.2,1177.1 L482.6,1175.2 L483.1,1173.3 L483.5,1171.4 L483.9,1169.5 L484.3,1167.6 L484.7,1165.6 L485.2,1163.7 L485.6,1161.7 L486.0,1159.7 L486.5,1157.7 L486.9,1155.7 L487.3,1153.8 L487.7,1151.8 L488.1,1149.8 L488.5,1147.8 L488.8,1145.9 L489.2,1143.9 L489.6,1141.9 L490.0,1140.0 L490.4,1138.0 L490.8,1136.1 L491.2,1134.1 L491.6,1132.2 L492.0,1130.3 L492.5,1128.4 L492.9,1126.5 L493.3,1124.6 L493.8,1122.7 L494.3,1120.8 L494.7,1119.0 L495.2,1117.1 L495.8,1115.2 L496.3,1113.3 L496.8,1111.4 L497.3,1109.5 L497.9,1107.7 L498.4,1105.8 L499.0,1103.9 L499.6,1102.0 L500.2,1100.2 L500.8,1098.3 L501.4,1096.4 L502.0,1094.6 L502.6,1092.7 L503.2,1090.8 L503.8,1088.9 L504.5,1087.1 L505.1,1085.2 L505.8,1083.3 L506.4,1081.5 L507.1,1079.6 L507.7,1077.7 L508.4,1075.9 L509.1,1074.0 L509.8,1072.2 L510.4,1070.3 L511.1,1068.5 L511.8,1066.7 L512.6,1064.8 L513.3,1063.0 L514.0,1061.2 L514.8,1059.4 L515.5,1057.6 L516.3,1055.9 L517.1,1054.1 L517.9,1052.3 L518.7,1050.5 L519.5,1048.7 L520.4,1046.9 L521.2,1045.2 L522.0,1043.4 L522.9,1041.6 L523.7,1039.8 L524.6,1038.1 L525.5,1036.3 L526.4,1034.6 L527.3,1032.8 L528.2,1031.1 L529.1,1029.3 L530.0,1027.6 L530.9,1025.9 L531.9,1024.2 L532.8,1022.5 L533.8,1020.8 L534.7,1019.1 L535.7,1017.5 L536.7,1015.8 L537.7,1014.2 L538.8,1012.5 L539.8,1010.9 L540.9,1009.3 L542.0,1007.7 L543.1,1006.1 L544.2,1004.5 L545.3,1002.9 L546.4,1001.4 L547.6,999.8 L548.7,998.2 L549.9,996.7 L551.1,995.2 L552.3,993.7 L553.5,992.1 L554.8,990.6 L556.0,989.1 L557.3,987.6 L558.5,986.2 L559.8,984.7 L561.1,983.2 L562.4,981.8 L563.7,980.3 L565.0,978.9 L566.3,977.5 L567.7,976.1 L569.0,974.7 L570.4,973.4 L571.8,972.0 L573.2,970.6 L574.6,969.3 L576.1,967.9 L577.5,966.5 L578.9,965.1 L580.4,963.8 L581.9,962.4 L583.3,961.0 L584.8,959.6 L586.2,958.2 L587.7,956.8 L589.1,955.4 L590.5,954.0 L592.0,952.6 L593.4,951.3 L594.8,949.9 L596.2,948.6 L597.7,947.2 L599.1,945.9 L600.6,944.6 L602.0,943.3 L603.5,942.1 L604.9,940.8 L606.4,939.6 L607.9,938.4 L609.4,937.2 L611.0,935.9 L612.5,934.7 L614.1,933.6 L615.6,932.4 L617.2,931.2 L618.8,930.1 L620.3,929.0 L621.9,927.8 L623.5,926.7 L625.1,925.6 L626.8,924.6 L628.4,923.5 L630.0,922.5 L631.6,921.5 L633.3,920.5 L634.9,919.6 L636.6,918.6 L638.4,917.6 L640.1,916.7 L641.9,915.7 L643.7,914.8 L645.5,913.8 L647.3,912.8 L649.1,911.7 L650.9,910.7 L652.6,909.6 L654.4,908.5 L656.1,907.5 L657.8,906.4 L659.5,905.3 L661.2,904.2 L662.9,903.1 L664.5,902.0 L666.2,900.9 L667.9,899.8 L669.5,898.7 L671.2,897.6 L672.9,896.5 L674.7,895.3 L676.4,894.1 L678.1,892.9 L679.7,891.7 L681.3,890.5 L682.9,889.3 L684.5,888.2 L686.0,887.1 L687.5,886.0 L689.0,885.0 L690.5,884.1 L692.0,883.2 L693.4,882.4 L695.0,881.7 L696.7,881.0 L698.4,880.4 L700.2,879.8 L702.1,879.3 L703.9,878.8 L705.9,878.4 L707.8,877.9 L709.8,877.5 L711.8,877.0 L713.9,876.5 L715.9,876.0 L717.9,875.4 L719.8,874.8 L721.7,874.2 L723.7,873.6 L725.6,873.0 L727.5,872.4 L729.5,871.7 L731.4,871.1 L733.4,870.4 L735.3,869.7 L737.2,869.0 L739.2,868.2 L741.2,867.4 L743.2,866.6 L745.1,865.7 L747.0,864.7 L748.8,863.8 L750.6,862.8 L752.3,861.9 L754.0,861.0 L755.7,860.1 L757.4,859.2 L759.1,858.3 L760.7,857.5 L762.5,856.8 L764.2,856.0 L766.0,855.3 L767.8,854.7 L769.7,854.0 L771.5,853.4 L773.4,852.7 L775.3,852.1 L777.2,851.5 L779.1,850.8 L781.0,850.2 L783.0,849.5 L784.9,848.8 L786.8,848.2 L788.7,847.5 L790.5,846.8 L792.4,846.1 L794.3,845.5 L796.2,844.8 L798.1,844.1 L800.0,843.4 L801.9,842.7 L803.8,842.0 L805.6,841.3 L807.5,840.6 L809.4,839.9 L811.2,839.2 L813.1,838.5 L815.0,837.8 L816.9,837.1 L818.8,836.4 L820.7,835.6 L822.6,834.9 L824.5,834.2 L826.4,833.4 L828.3,832.6 L830.2,831.8 L832.2,831.0 L834.1,830.1 L835.9,829.2 L837.7,828.3 L839.5,827.4 L841.3,826.5 L843.0,825.6 L844.7,824.7 L846.4,823.9 L848.1,823.1 L849.7,822.4 L851.4,821.7 L853.1,821.1 L854.9,820.5 L856.8,819.9 L858.6,819.4 L860.5,818.9 L862.5,818.4 L864.4,818.0 L866.4,817.5 L868.3,817.0 L870.3,816.5 L872.4,816.0 L874.3,815.5 L876.3,814.9 L878.2,814.4 L880.2,813.8 L882.1,813.2 L884.0,812.6 L885.9,812.0 L887.9,811.4 L889.8,810.8 L891.7,810.2 L893.6,809.6 L895.5,808.9 L897.5,808.3 L899.4,807.7 L901.3,807.0 L903.2,806.4 L905.1,805.7 L907.0,805.0 L908.9,804.4 L910.7,803.7 L912.6,803.1 L914.5,802.4 L916.3,801.8 L918.1,801.2 L920.0,800.6 L921.8,800.0 L923.7,799.4 L925.6,798.9 L927.5,798.4 L929.5,797.9 L931.4,797.3 L933.4,796.8 L935.4,796.3 L937.4,795.7 L939.4,795.1 L941.4,794.5 L943.4,793.8 L945.4,793.1 L947.3,792.3 L949.2,791.5 L951.1,790.8 L953.0,789.9 L954.8,789.1 L956.6,788.3 L958.4,787.5 L960.2,786.7 L962.0,785.9 L963.8,785.2 L965.7,784.4 L967.5,783.6 L969.4,782.9 L971.2,782.1 L973.1,781.4 L974.9,780.6 L976.7,779.9 L978.6,779.1 L980.4,778.4 L982.2,777.7 L984.0,776.9 L985.9,776.2 L987.7,775.6 L989.5,774.9 L991.4,774.2 L993.3,773.6 L995.1,773.0 L997.0,772.3 L998.9,771.7 L1000.8,771.1 L1002.7,770.4 L1004.7,769.8 L1006.6,769.1 L1008.5,768.5 L1010.5,767.8 L1012.4,767.1 L1014.3,766.3 L1016.2,765.6 L1018.1,764.8 L1019.9,764.1 L1021.7,763.4 L1023.6,762.6 L1025.4,761.9 L1027.2,761.2 L1029.0,760.6 L1030.7,760.0 L1032.6,759.4 L1034.4,758.8 L1036.3,758.2 L1038.2,757.7 L1040.1,757.1 L1042.0,756.6 L1043.9,756.1 L1045.9,755.6 L1047.8,755.1 L1049.8,754.6 L1051.7,754.1 L1053.6,753.5 L1055.5,753.0 L1057.4,752.5 L1059.3,752.1 L1061.2,751.6 L1063.2,751.1 L1065.2,750.7 L1067.2,750.2 L1069.2,749.7 L1071.3,749.1 L1073.3,748.5 L1075.4,747.9 L1077.6,747.1 L1079.7,746.2 L1081.7,745.2 L1083.6,744.2 L1085.5,743.1 L1087.2,742.0 L1089.0,740.9 L1090.6,739.8 L1092.3,738.8 L1093.9,737.7 L1095.5,736.7 L1097.1,735.8 L1098.6,734.9 L1100.3,734.0 L1102.1,733.1 L1103.8,732.3 L1105.6,731.4 L1107.4,730.6 L1109.1,729.8 L1110.9,729.0 L1112.7,728.2 L1114.6,727.4 L1116.4,726.6 L1118.2,725.8 L1120.0,725.1 L1121.8,724.3 L1123.6,723.6 L1125.5,722.8 L1127.3,722.1 L1129.1,721.4 L1131.0,720.7 L1132.9,720.0 L1134.7,719.3 L1136.6,718.5 L1138.5,717.8 L1140.4,717.1 L1142.4,716.3 L1144.2,715.5 L1146.1,714.8 L1147.9,714.0 L1149.8,713.2 L1151.7,712.4 L1153.5,711.6 L1155.4,710.8 L1157.2,710.0 L1159.1,709.1 L1161.0,708.3 L1162.8,707.4 L1164.7,706.5 L1166.5,705.6 L1168.5,704.6 L1170.3,703.6 L1172.1,702.6 L1173.9,701.5 L1175.7,700.5 L1177.4,699.5 L1179.0,698.4 L1180.7,697.4 L1182.4,696.4 L1184.0,695.5 L1185.6,694.6 L1187.2,693.7 L1188.8,692.9 L1190.6,692.1 L1192.3,691.4 L1194.1,690.6 L1195.9,689.9 L1197.7,689.2 L1199.6,688.6 L1201.4,687.9 L1203.4,687.2 L1205.3,686.6 L1207.2,685.9 L1209.2,685.2 L1211.1,684.4 L1212.9,683.7 L1214.7,683.0 L1216.6,682.3 L1218.5,681.6 L1220.4,680.8 L1222.3,680.1 L1224.2,679.3 L1226.1,678.5 L1228.1,677.7 L1230.0,676.8 L1232.0,675.9 L1233.9,674.9 L1236.0,673.8 L1237.9,672.6 L1239.7,671.3 L1241.4,670.0 L1243.1,668.6 L1244.6,667.3 L1246.2,666.0 L1247.7,664.7 L1249.2,663.5 L1250.7,662.2 L1252.1,661.0 L1253.6,659.9 L1255.0,658.8 L1256.4,657.9 L1258.0,656.9 L1259.6,655.9 L1261.3,654.9 L1262.9,654.0 L1264.6,653.1 L1266.4,652.2 L1268.2,651.3 L1270.0,650.4 L1271.8,649.5 L1273.6,648.5 L1275.4,647.6 L1277.3,646.6 L1279.1,645.6 L1280.9,644.6 L1282.6,643.5 L1284.4,642.5 L1286.1,641.5 L1287.8,640.4 L1289.6,639.3 L1291.3,638.3 L1293.0,637.2 L1294.7,636.1 L1296.5,635.0 L1298.2,633.8 L1299.9,632.7 L1301.6,631.6 L1303.3,630.3 L1305.0,629.1 L1306.7,627.9 L1308.3,626.6 L1309.9,625.4 L1311.5,624.1 L1313.1,622.8 L1314.6,621.6 L1316.2,620.4 L1317.7,619.1 L1319.3,617.9 L1320.8,616.8 L1322.3,615.6 L1323.8,614.5 L1325.4,613.4 L1327.0,612.3 L1328.6,611.2 L1330.2,610.1 L1331.9,609.0 L1333.6,608.0 L1335.2,606.9 L1336.9,605.8 L1338.6,604.8 L1340.3,603.7 L1342.1,602.6 L1343.8,601.5 L1345.5,600.3 L1347.2,599.2 L1348.8,598.0 L1350.5,596.9 L1352.1,595.7 L1353.8,594.6 L1355.5,593.4 L1357.1,592.2 L1358.8,591.1 L1360.4,589.9 L1362.1,588.7 L1363.7,587.5 L1365.3,586.3 L1367.0,585.0 L1368.6,583.8 L1370.2,582.5 L1371.9,581.2 L1373.5,579.8 L1375.0,578.5 L1376.6,577.2 L1378.1,575.8 L1379.6,574.5 L1381.1,573.2 L1382.6,571.8 L1384.1,570.5 L1385.5,569.3 L1387.0,568.0 L1388.5,566.7 L1389.9,565.5 L1391.4,564.4 L1392.9,563.2 L1394.4,562.1 L1396.0,561.0 L1397.6,559.9 L1399.2,558.8 L1400.8,557.7 L1402.5,556.6 L1404.2,555.5 L1405.9,554.3 L1407.6,553.2 L1409.3,552.0 L1411.0,550.7 L1412.7,549.5 L1414.4,548.1 L1416.1,546.8 L1417.7,545.4 L1419.3,544.0 L1420.8,542.6 L1422.3,541.2 L1423.8,539.8 L1425.2,538.3 L1426.7,536.9 L1428.1,535.5 L1429.5,534.1 L1431.0,532.7 L1432.4,531.3 L1433.8,530.0 L1435.2,528.6 L1436.6,527.3 L1438.0,526.0 L1439.5,524.7 L1440.9,523.3 L1442.4,522.0 L1443.9,520.7 L1445.4,519.4 L1446.9,518.0 L1448.4,516.7 L1449.9,515.4 L1451.4,514.0 L1452.9,512.7 L1454.4,511.3 L1455.9,509.9 L1457.4,508.5 L1458.9,507.1 L1460.4,505.6 L1461.8,504.2 L1463.3,502.7 L1464.7,501.3 L1466.1,499.8 L1467.5,498.4 L1468.9,496.9 L1470.3,495.4 L1471.7,494.0 L1473.1,492.5 L1474.5,491.1 L1475.8,489.6 L1477.2,488.2 L1478.6,486.7 L1479.9,485.3 L1481.3,483.9 L1482.7,482.4 L1484.1,481.0 L1485.4,479.6 L1486.8,478.1 L1488.2,476.7 L1489.6,475.3 L1491.0,473.8 L1492.4,472.4 L1493.8,470.9 L1495.2,469.5 L1496.6,468.0 L1498.0,466.6 L1499.4,465.2 L1500.7,463.7 L1502.1,462.3 L1503.5,460.8 L1504.9,459.3 L1506.3,457.9 L1507.7,456.4 L1509.0,455.0 L1510.4,453.5 L1511.8,452.1 L1513.2,450.6 L1514.5,449.1 L1515.9,447.7 L1517.3,446.2 L1518.7,444.7 L1520.0,443.3 L1521.4,441.8 L1522.7,440.3 L1524.1,438.8 L1525.5,437.4 L1526.8,435.9 L1528.2,434.4 L1529.5,432.9 L1530.9,431.4 L1532.3,430.0 L1533.6,428.5 L1535.0,427.0 L1536.3,425.5 L1537.6,424.0 L1539.0,422.5 L1540.3,421.0 L1541.7,419.5 L1543.0,418.1 L1544.3,416.6 L1545.7,415.1 L1547.0,413.6 L1548.4,412.1 L1549.7,410.6 L1551.0,409.2 L1552.4,407.7 L1553.7,406.2 L1555.1,404.7 L1556.4,403.2 L1557.7,401.7 L1559.1,400.2 L1560.4,398.8 L1561.8,397.3 L1563.1,395.8 L1564.4,394.3 L1565.8,392.8 L1567.1,391.3 L1568.4,389.8 L1569.8,388.3 L1571.1,386.9 L1571.8,386.1 L1563.5,378.5 L1562.7,379.3 L1561.4,380.8 L1560.1,382.3 L1558.7,383.8 L1557.4,385.3 L1556.1,386.8 L1554.7,388.2 L1553.4,389.7 L1552.0,391.2 L1550.7,392.7 L1549.4,394.2 L1548.0,395.7 L1546.7,397.1 L1545.3,398.6 L1544.0,400.1 L1542.7,401.6 L1541.3,403.1 L1540.0,404.6 L1538.6,406.1 L1537.3,407.5 L1536.0,409.0 L1534.6,410.5 L1533.3,412.0 L1531.9,413.5 L1530.6,415.0 L1529.3,416.5 L1527.9,417.9 L1526.6,419.4 L1525.3,420.9 L1523.9,422.4 L1522.6,423.8 L1521.2,425.3 L1519.9,426.8 L1518.5,428.3 L1517.2,429.7 L1515.8,431.2 L1514.5,432.7 L1513.1,434.1 L1511.8,435.6 L1510.4,437.0 L1509.0,438.5 L1507.7,440.0 L1506.3,441.4 L1504.9,442.9 L1503.6,444.3 L1502.2,445.8 L1500.8,447.2 L1499.5,448.7 L1498.1,450.1 L1496.7,451.6 L1495.3,453.0 L1494.0,454.5 L1492.6,455.9 L1491.2,457.3 L1489.8,458.8 L1488.4,460.2 L1487.1,461.7 L1485.7,463.1 L1484.3,464.5 L1482.9,466.0 L1481.5,467.4 L1480.1,468.8 L1478.7,470.3 L1477.3,471.7 L1475.9,473.2 L1474.5,474.6 L1473.2,476.0 L1471.8,477.5 L1470.4,479.0 L1469.0,480.4 L1467.6,481.9 L1466.2,483.3 L1464.9,484.8 L1463.5,486.2 L1462.1,487.7 L1460.8,489.1 L1459.4,490.6 L1458.0,492.0 L1456.6,493.4 L1455.3,494.8 L1453.9,496.2 L1452.5,497.6 L1451.1,498.9 L1449.6,500.3 L1448.2,501.6 L1446.8,503.0 L1445.3,504.3 L1443.9,505.6 L1442.4,507.0 L1440.9,508.3 L1439.4,509.6 L1437.9,510.9 L1436.4,512.3 L1434.9,513.6 L1433.4,515.0 L1431.9,516.3 L1430.4,517.7 L1428.9,519.0 L1427.4,520.4 L1426.0,521.8 L1424.5,523.3 L1423.0,524.7 L1421.6,526.1 L1420.2,527.5 L1418.8,528.9 L1417.4,530.3 L1415.9,531.6 L1414.5,533.0 L1413.1,534.3 L1411.7,535.7 L1410.2,537.0 L1408.8,538.2 L1407.3,539.4 L1405.9,540.6 L1404.4,541.8 L1402.8,542.9 L1401.3,544.1 L1399.7,545.2 L1398.0,546.3 L1396.4,547.4 L1394.7,548.5 L1393.1,549.6 L1391.4,550.7 L1389.7,551.9 L1388.0,553.0 L1386.3,554.3 L1384.6,555.5 L1382.9,556.8 L1381.3,558.1 L1379.7,559.4 L1378.2,560.7 L1376.6,562.1 L1375.1,563.4 L1373.6,564.7 L1372.1,566.1 L1370.6,567.4 L1369.2,568.7 L1367.7,570.0 L1366.2,571.3 L1364.7,572.5 L1363.2,573.7 L1361.7,574.9 L1360.2,576.1 L1358.6,577.3 L1357.0,578.5 L1355.4,579.7 L1353.9,580.9 L1352.3,582.0 L1350.6,583.2 L1349.0,584.3 L1347.4,585.5 L1345.8,586.6 L1344.2,587.8 L1342.5,588.9 L1340.9,590.0 L1339.3,591.1 L1337.7,592.2 L1336.0,593.3 L1334.4,594.4 L1332.7,595.5 L1331.0,596.5 L1329.3,597.6 L1327.6,598.7 L1325.9,599.8 L1324.2,600.9 L1322.5,602.0 L1320.8,603.1 L1319.1,604.2 L1317.4,605.4 L1315.7,606.6 L1314.1,607.8 L1312.4,609.1 L1310.8,610.3 L1309.2,611.6 L1307.6,612.8 L1306.1,614.1 L1304.5,615.3 L1303.0,616.6 L1301.4,617.8 L1299.9,619.0 L1298.3,620.2 L1296.8,621.3 L1295.2,622.4 L1293.6,623.5 L1292.0,624.7 L1290.4,625.7 L1288.7,626.8 L1287.1,627.9 L1285.4,629.0 L1283.8,630.0 L1282.1,631.1 L1280.4,632.1 L1278.7,633.1 L1277.0,634.1 L1275.3,635.2 L1273.6,636.2 L1272.0,637.1 L1270.3,638.1 L1268.6,639.0 L1266.9,639.9 L1265.1,640.8 L1263.3,641.7 L1261.5,642.6 L1259.7,643.6 L1257.9,644.5 L1256.1,645.4 L1254.2,646.4 L1252.4,647.5 L1250.6,648.5 L1248.7,649.7 L1246.9,651.0 L1245.2,652.2 L1243.6,653.5 L1242.0,654.8 L1240.4,656.1 L1238.9,657.4 L1237.4,658.7 L1235.9,660.0 L1234.4,661.2 L1233.0,662.4 L1231.5,663.5 L1230.0,664.5 L1228.6,665.5 L1227.0,666.4 L1225.4,667.3 L1223.7,668.1 L1221.9,668.9 L1220.2,669.7 L1218.4,670.5 L1216.6,671.2 L1214.8,671.9 L1212.9,672.7 L1211.0,673.4 L1209.2,674.1 L1207.2,674.8 L1205.4,675.6 L1203.6,676.3 L1201.8,677.0 L1199.9,677.6 L1198.1,678.3 L1196.2,679.0 L1194.3,679.6 L1192.3,680.3 L1190.4,681.0 L1188.5,681.7 L1186.5,682.5 L1184.6,683.3 L1182.6,684.1 L1180.7,685.0 L1178.8,686.0 L1176.9,687.0 L1175.1,688.0 L1173.4,689.1 L1171.7,690.1 L1169.9,691.1 L1168.3,692.2 L1166.6,693.2 L1164.9,694.2 L1163.3,695.1 L1161.6,696.1 L1159.9,696.9 L1158.2,697.8 L1156.4,698.7 L1154.7,699.5 L1152.9,700.3 L1151.1,701.2 L1149.3,702.0 L1147.5,702.8 L1145.7,703.6 L1143.8,704.4 L1142.0,705.1 L1140.2,705.9 L1138.4,706.7 L1136.6,707.5 L1134.8,708.2 L1132.9,708.9 L1131.1,709.6 L1129.2,710.4 L1127.3,711.1 L1125.5,711.8 L1123.6,712.5 L1121.7,713.2 L1119.8,713.9 L1117.9,714.7 L1116.0,715.5 L1114.1,716.2 L1112.3,717.0 L1110.4,717.8 L1108.6,718.6 L1106.7,719.4 L1104.9,720.2 L1103.0,721.0 L1101.1,721.8 L1099.3,722.7 L1097.4,723.6 L1095.6,724.4 L1093.8,725.3 L1091.8,726.3 L1089.9,727.3 L1088.1,728.4 L1086.4,729.5 L1084.6,730.6 L1083.0,731.7 L1081.3,732.7 L1079.7,733.8 L1078.1,734.8 L1076.5,735.8 L1074.9,736.7 L1073.4,737.5 L1071.8,738.3 L1070.1,738.9 L1068.3,739.6 L1066.5,740.2 L1064.7,740.7 L1062.8,741.2 L1060.9,741.7 L1059.0,742.2 L1057.0,742.7 L1055.1,743.1 L1053.1,743.6 L1051.1,744.1 L1049.1,744.6 L1047.2,745.1 L1045.3,745.6 L1043.4,746.2 L1041.5,746.7 L1039.5,747.2 L1037.6,747.7 L1035.6,748.2 L1033.6,748.7 L1031.7,749.3 L1029.7,749.8 L1027.7,750.4 L1025.7,751.0 L1023.7,751.7 L1021.8,752.3 L1019.9,753.0 L1018.0,753.7 L1016.1,754.5 L1014.2,755.2 L1012.4,756.0 L1010.5,756.7 L1008.7,757.4 L1006.9,758.2 L1005.1,758.9 L1003.2,759.5 L1001.4,760.2 L999.5,760.8 L997.6,761.5 L995.7,762.1 L993.8,762.7 L991.9,763.4 L990.0,764.0 L988.1,764.7 L986.2,765.3 L984.3,766.0 L982.3,766.6 L980.4,767.3 L978.5,768.0 L976.6,768.8 L974.7,769.5 L972.9,770.2 L971.0,771.0 L969.1,771.7 L967.3,772.5 L965.4,773.3 L963.6,774.0 L961.7,774.8 L959.9,775.6 L958.0,776.3 L956.1,777.1 L954.2,777.9 L952.4,778.7 L950.5,779.5 L948.7,780.3 L946.9,781.1 L945.1,781.9 L943.3,782.7 L941.6,783.5 L939.8,784.2 L938.0,784.9 L936.2,785.5 L934.4,786.2 L932.6,786.8 L930.7,787.3 L928.8,787.9 L926.9,788.4 L925.0,788.9 L923.0,789.4 L921.1,790.0 L919.1,790.5 L917.1,791.0 L915.2,791.6 L913.2,792.2 L911.2,792.8 L909.3,793.5 L907.4,794.1 L905.5,794.8 L903.6,795.4 L901.7,796.1 L899.8,796.8 L898.0,797.4 L896.1,798.1 L894.2,798.7 L892.4,799.4 L890.5,800.0 L888.6,800.6 L886.7,801.2 L884.8,801.8 L882.9,802.5 L881.0,803.1 L879.1,803.7 L877.2,804.3 L875.3,804.8 L873.5,805.4 L871.6,806.0 L869.7,806.5 L867.8,807.1 L866.0,807.6 L864.1,808.1 L862.1,808.6 L860.2,809.0 L858.2,809.5 L856.2,810.0 L854.2,810.5 L852.2,811.0 L850.2,811.5 L848.2,812.1 L846.1,812.8 L844.1,813.5 L842.1,814.3 L840.2,815.1 L838.3,816.0 L836.4,816.9 L834.6,817.8 L832.8,818.7 L831.1,819.7 L829.4,820.5 L827.6,821.4 L825.9,822.2 L824.2,823.0 L822.4,823.8 L820.6,824.6 L818.8,825.3 L816.9,826.0 L815.1,826.8 L813.2,827.5 L811.4,828.2 L809.5,828.9 L807.7,829.6 L805.8,830.3 L803.9,831.0 L802.0,831.7 L800.2,832.4 L798.3,833.1 L796.4,833.8 L794.6,834.5 L792.7,835.2 L790.8,835.8 L789.0,836.5 L787.1,837.2 L785.2,837.9 L783.3,838.6 L781.4,839.2 L779.6,839.9 L777.7,840.6 L775.9,841.2 L774.0,841.9 L772.1,842.5 L770.2,843.1 L768.3,843.8 L766.4,844.4 L764.4,845.1 L762.5,845.7 L760.5,846.4 L758.6,847.2 L756.6,847.9 L754.7,848.7 L752.7,849.6 L750.9,850.5 L749.0,851.4 L747.2,852.4 L745.5,853.3 L743.7,854.3 L742.0,855.2 L740.3,856.1 L738.6,857.0 L736.9,857.8 L735.2,858.6 L733.5,859.4 L731.6,860.1 L729.8,860.8 L728.0,861.5 L726.2,862.1 L724.3,862.8 L722.5,863.4 L720.6,864.1 L718.7,864.7 L716.8,865.3 L714.9,865.9 L713.0,866.5 L711.2,867.0 L709.4,867.6 L707.5,868.1 L705.6,868.5 L703.7,869.0 L701.7,869.4 L699.7,869.9 L697.7,870.4 L695.6,870.9 L693.6,871.5 L691.5,872.1 L689.4,872.8 L687.2,873.6 L685.2,874.6 L683.3,875.7 L681.5,876.8 L679.7,877.9 L678.0,879.1 L676.3,880.3 L674.7,881.5 L673.1,882.7 L671.5,883.9 L669.9,885.1 L668.4,886.2 L666.8,887.2 L665.2,888.3 L663.5,889.4 L661.8,890.5 L660.1,891.6 L658.5,892.7 L656.8,893.8 L655.1,894.9 L653.5,896.0 L651.8,897.1 L650.1,898.2 L648.5,899.2 L646.8,900.3 L645.2,901.3 L643.5,902.3 L641.8,903.3 L640.2,904.3 L638.5,905.3 L636.7,906.2 L635.0,907.2 L633.2,908.2 L631.4,909.1 L629.7,910.1 L627.9,911.1 L626.1,912.1 L624.3,913.1 L622.5,914.2 L620.8,915.3 L619.0,916.4 L617.3,917.6 L615.6,918.7 L614.0,919.9 L612.3,921.0 L610.6,922.2 L609.0,923.4 L607.3,924.6 L605.7,925.9 L604.1,927.1 L602.5,928.4 L600.9,929.6 L599.3,930.9 L597.7,932.2 L596.1,933.5 L594.6,934.9 L593.0,936.2 L591.5,937.6 L590.0,939.0 L588.5,940.3 L587.1,941.7 L585.6,943.1 L584.1,944.5 L582.7,945.9 L581.3,947.3 L579.8,948.7 L578.4,950.1 L576.9,951.5 L575.5,952.8 L574.1,954.2 L572.6,955.6 L571.2,957.0 L569.7,958.3 L568.3,959.7 L566.8,961.1 L565.4,962.5 L563.9,963.9 L562.5,965.4 L561.0,966.8 L559.6,968.3 L558.2,969.7 L556.8,971.2 L555.4,972.7 L554.0,974.2 L552.7,975.8 L551.3,977.3 L550.0,978.8 L548.7,980.4 L547.4,981.9 L546.1,983.5 L544.8,985.1 L543.5,986.7 L542.3,988.3 L541.0,989.9 L539.8,991.5 L538.6,993.2 L537.4,994.8 L536.2,996.5 L535.1,998.2 L533.9,999.8 L532.8,1001.5 L531.7,1003.2 L530.6,1004.9 L529.5,1006.7 L528.4,1008.4 L527.4,1010.2 L526.3,1011.9 L525.3,1013.7 L524.3,1015.4 L523.3,1017.2 L522.4,1019.0 L521.4,1020.8 L520.5,1022.6 L519.5,1024.4 L518.6,1026.2 L517.7,1028.0 L516.8,1029.8 L515.9,1031.6 L515.0,1033.4 L514.2,1035.2 L513.3,1037.0 L512.4,1038.9 L511.6,1040.7 L510.8,1042.5 L509.9,1044.4 L509.1,1046.2 L508.3,1048.0 L507.5,1049.9 L506.7,1051.7 L505.9,1053.6 L505.1,1055.5 L504.4,1057.4 L503.7,1059.2 L502.9,1061.1 L502.2,1063.0 L501.5,1064.9 L500.8,1066.8 L500.2,1068.7 L499.5,1070.6 L498.8,1072.5 L498.1,1074.4 L497.5,1076.2 L496.8,1078.1 L496.2,1080.0 L495.5,1081.9 L494.9,1083.8 L494.3,1085.7 L493.6,1087.6 L493.0,1089.6 L492.4,1091.5 L491.8,1093.4 L491.2,1095.3 L490.6,1097.2 L490.1,1099.1 L489.5,1101.1 L488.9,1103.0 L488.4,1104.9 L487.9,1106.9 L487.3,1108.8 L486.8,1110.7 L486.3,1112.7 L485.8,1114.6 L485.3,1116.6 L484.9,1118.5 L484.4,1120.5 L484.0,1122.4 L483.6,1124.4 L483.1,1126.4 L482.7,1128.3 L482.3,1130.3 L481.9,1132.2 L481.5,1134.2 L481.1,1136.2 L480.8,1138.1 L480.4,1140.1 L480.0,1142.0 L479.6,1144.0 L479.2,1146.0 L478.8,1147.9 L478.4,1149.9 L478.0,1151.8 L477.6,1153.8 L477.1,1155.8 L476.7,1157.7 L476.3,1159.7 L475.8,1161.6 L475.4,1163.6 L475.0,1165.5 L474.6,1167.5 L474.2,1169.4 L473.8,1171.4 L473.4,1173.4 L473.0,1175.3 L472.6,1177.3 L472.3,1179.2 L471.9,1181.2 L471.6,1183.2 L471.2,1185.1 L470.9,1187.1 L470.6,1189.1 L470.3,1191.1 L469.9,1193.0 L469.6,1195.0 L469.3,1197.0 L469.0,1198.9 L468.7,1200.9 L468.4,1202.9 L468.1,1204.9 L467.8,1206.8 L467.5,1208.8 L467.2,1210.8 L466.9,1212.8 L466.6,1214.7 L466.4,1216.7 L466.1,1218.7 L465.8,1220.7 L465.5,1222.7 L465.2,1224.6 L464.9,1226.6 L464.7,1228.6 L464.4,1230.6 L464.1,1232.6 L463.9,1234.5 L463.6,1236.5 L463.3,1238.5 L463.0,1240.5 L462.8,1242.4 L462.5,1244.4 L462.3,1246.4 L462.0,1248.4 L461.8,1250.4 L461.5,1252.3 L461.3,1254.3 L461.0,1256.3 L460.8,1258.3 L460.6,1260.3 L460.3,1262.3 L460.1,1264.2 L459.8,1266.2 L459.6,1268.2 L459.4,1270.2 L459.1,1272.2 L458.9,1274.2 L458.7,1276.2 L458.4,1278.1 L458.2,1280.1 L458.0,1282.1 L457.7,1284.1 L457.5,1286.1 L457.3,1288.1 L457.0,1290.0 L456.8,1292.0 L456.6,1294.0 L456.3,1296.0 L456.1,1298.0 L455.9,1300.0 L455.6,1302.0 L455.4,1303.9 L455.2,1305.9 L455.0,1307.9 L454.7,1309.9 L454.5,1311.9 L454.3,1313.9 L454.0,1315.9 L453.8,1317.9 L453.6,1319.8 L453.4,1321.8 L453.1,1323.8 L452.9,1325.8 L452.7,1327.8 L452.4,1329.8 L452.2,1331.8 L452.0,1333.8 L451.7,1335.7 L451.5,1337.7 L451.3,1339.7 L451.0,1341.7 L450.8,1343.7 L450.6,1345.7 L450.4,1347.7 L450.1,1349.6 L449.9,1351.6 L449.7,1353.6 L449.4,1355.6 L449.2,1357.6 L449.0,1359.6 L448.7,1361.6 L448.5,1363.5 L448.3,1365.5 L448.1,1367.5 L447.8,1369.5 L447.6,1371.5 L447.4,1373.5 L447.2,1375.5 L446.9,1377.4 L446.7,1379.4 L446.5,1381.4 L446.3,1383.4 L446.1,1385.4 L445.9,1387.4 L445.7,1389.3 L445.5,1391.3 L445.3,1393.3 L445.0,1395.3 L444.8,1397.3 L444.6,1399.3 L444.3,1401.3 L444.1,1403.3 L443.8,1405.3 L443.6,1407.3 L443.3,1409.3 L443.0,1411.3 L442.7,1413.3 L442.4,1415.3 L442.1,1417.3 L441.8,1419.3 L441.4,1421.2 L441.1,1423.2 L440.7,1425.2 L440.3,1427.2 L439.9,1429.1 L439.5,1431.1 L439.0,1433.0 L438.6,1435.0 L438.1,1436.9 L437.7,1438.9 L437.3,1440.8 L436.9,1442.8 L436.6,1444.8 L436.2,1446.7 L435.9,1448.7 L435.5,1450.7 L435.0,1452.7 L434.2,1454.4 L433.4,1456.0 L432.5,1457.4 L431.5,1458.8 L430.4,1460.2 L429.3,1461.5 L428.1,1462.8 L426.7,1464.2 L425.3,1465.8 L423.9,1467.3 L422.6,1468.8 L421.4,1470.0 L420.6,1470.9 L419.7,1471.6 L418.1,1472.4 L416.4,1473.1 L414.6,1473.8 L412.9,1474.4 L411.1,1475.0 L409.3,1475.5 L407.5,1476.0 L405.6,1476.4 L403.8,1476.8 L401.9,1477.1 L399.9,1477.5 L398.0,1477.7 L396.0,1478.0 L394.0,1478.3 L392.1,1478.5 L390.1,1478.8 L388.2,1479.0 L386.3,1479.2 L384.4,1479.4 L382.4,1479.6 L380.5,1479.7 L378.6,1479.8 L376.8,1479.8 L374.9,1479.6 L373.1,1479.3 L371.2,1479.1 L369.3,1478.8 L367.3,1478.5 L365.3,1478.3 L363.3,1478.0 L361.2,1477.9 L359.1,1477.8 L356.9,1477.8 L354.7,1477.8 L352.7,1477.8 L350.6,1477.8 L348.5,1477.9 L346.5,1477.9 L344.4,1478.1 L342.4,1478.2 L340.3,1478.4 L338.2,1478.6 L336.2,1478.8 L334.1,1479.1 L332.1,1479.4Z"/><circle cx="332.9" cy="1484.0" r="4.7"/><circle cx="1567.7" cy="382.3" r="5.6"/></g>
<g fill="#0f0"><path d="M331.7,1465.7 h2.4 l15.3,26.5 v3.4 h-33 v-3.4 z"/><path d="M354.1,1463.7 h2.4 l15.3,26.5 v3.4 h-33 v-3.4 z"/><path d="M376.6,1465.7 h2.4 l15.3,26.5 v3.4 h-33 v-3.4 z"/><path d="M399.1,1463.7 h2.4 l15.3,26.5 v3.4 h-33 v-3.4 z"/><path d="M421.5,1457.7 h2.4 l15.3,26.5 v3.4 h-33 v-3.4 z"/><path d="M443.9,1408.7 h2.4 l15.3,26.5 v3.4 h-33 v-3.4 z"/><path d="M466.4,1222.4 h2.4 l15.3,26.5 v3.4 h-33 v-3.4 z"/><path d="M488.8,1099.4 h2.4 l15.3,26.5 v3.4 h-33 v-3.4 z"/><path d="M511.3,1033.2 h2.4 l15.3,26.5 v3.4 h-33 v-3.4 z"/><path d="M533.7,990.0 h2.4 l15.3,26.5 v3.4 h-33 v-3.4 z"/><path d="M556.2,960.6 h2.4 l15.3,26.5 v3.4 h-33 v-3.4 z"/><path d="M578.6,938.2 h2.4 l15.3,26.5 v3.4 h-33 v-3.4 z"/><path d="M601.1,917.4 h2.4 l15.3,26.5 v3.4 h-33 v-3.4 z"/><path d="M623.5,901.0 h2.4 l15.3,26.5 v3.4 h-33 v-3.4 z"/><path d="M646.0,888.2 h2.4 l15.3,26.5 v3.4 h-33 v-3.4 z"/><path d="M668.4,873.7 h2.4 l15.3,26.5 v3.4 h-33 v-3.4 z"/><path d="M690.9,859.0 h2.4 l15.3,26.5 v3.4 h-33 v-3.4 z"/><path d="M713.3,852.9 h2.4 l15.3,26.5 v3.4 h-33 v-3.4 z"/><path d="M735.8,845.2 h2.4 l15.3,26.5 v3.4 h-33 v-3.4 z"/><path d="M758.2,834.1 h2.4 l15.3,26.5 v3.4 h-33 v-3.4 z"/><path d="M780.7,826.2 h2.4 l15.3,26.5 v3.4 h-33 v-3.4 z"/><path d="M803.1,818.0 h2.4 l15.3,26.5 v3.4 h-33 v-3.4 z"/><path d="M825.6,809.3 h2.4 l15.3,26.5 v3.4 h-33 v-3.4 z"/><path d="M848.0,798.8 h2.4 l15.3,26.5 v3.4 h-33 v-3.4 z"/><path d="M870.5,792.8 h2.4 l15.3,26.5 v3.4 h-33 v-3.4 z"/><path d="M892.9,785.8 h2.4 l15.3,26.5 v3.4 h-33 v-3.4 z"/><path d="M915.4,778.1 h2.4 l15.3,26.5 v3.4 h-33 v-3.4 z"/><path d="M937.8,771.6 h2.4 l15.3,26.5 v3.4 h-33 v-3.4 z"/><path d="M960.3,762.2 h2.4 l15.3,26.5 v3.4 h-33 v-3.4 z"/><path d="M982.7,753.2 h2.4 l15.3,26.5 v3.4 h-33 v-3.4 z"/><path d="M1005.2,745.5 h2.4 l15.3,26.5 v3.4 h-33 v-3.4 z"/><path d="M1027.6,737.0 h2.4 l15.3,26.5 v3.4 h-33 v-3.4 z"/><path d="M1050.1,730.8 h2.4 l15.3,26.5 v3.4 h-33 v-3.4 z"/><path d="M1072.5,724.7 h2.4 l15.3,26.5 v3.4 h-33 v-3.4 z"/><path d="M1095.0,711.8 h2.4 l15.3,26.5 v3.4 h-33 v-3.4 z"/><path d="M1117.5,701.7 h2.4 l15.3,26.5 v3.4 h-33 v-3.4 z"/><path d="M1139.9,692.9 h2.4 l15.3,26.5 v3.4 h-33 v-3.4 z"/><path d="M1162.3,682.8 h2.4 l15.3,26.5 v3.4 h-33 v-3.4 z"/><path d="M1184.8,670.1 h2.4 l15.3,26.5 v3.4 h-33 v-3.4 z"/><path d="M1207.2,661.6 h2.4 l15.3,26.5 v3.4 h-33 v-3.4 z"/><path d="M1229.7,652.1 h2.4 l15.3,26.5 v3.4 h-33 v-3.4 z"/><path d="M1252.1,635.0 h2.4 l15.3,26.5 v3.4 h-33 v-3.4 z"/><path d="M1274.6,622.9 h2.4 l15.3,26.5 v3.4 h-33 v-3.4 z"/><path d="M1297.0,608.8 h2.4 l15.3,26.5 v3.4 h-33 v-3.4 z"/><path d="M1319.5,591.6 h2.4 l15.3,26.5 v3.4 h-33 v-3.4 z"/><path d="M1342.0,576.9 h2.4 l15.3,26.5 v3.4 h-33 v-3.4 z"/><path d="M1364.4,560.7 h2.4 l15.3,26.5 v3.4 h-33 v-3.4 z"/><path d="M1386.8,541.6 h2.4 l15.3,26.5 v3.4 h-33 v-3.4 z"/><path d="M1409.3,525.8 h2.4 l15.3,26.5 v3.4 h-33 v-3.4 z"/><path d="M1431.7,504.7 h2.4 l15.3,26.5 v3.4 h-33 v-3.4 z"/><path d="M1454.2,484.3 h2.4 l15.3,26.5 v3.4 h-33 v-3.4 z"/><path d="M1476.6,461.0 h2.4 l15.3,26.5 v3.4 h-33 v-3.4 z"/><path d="M1499.1,437.7 h2.4 l15.3,26.5 v3.4 h-33 v-3.4 z"/><path d="M1521.5,413.7 h2.4 l15.3,26.5 v3.4 h-33 v-3.4 z"/><path d="M1544.0,388.9 h2.4 l15.3,26.5 v3.4 h-33 v-3.4 z"/><path d="M1566.5,364.0 h2.4 l15.3,26.5 v3.4 h-33 v-3.4 z"/></g>
</g>
<rect x="1172.5" y="1130.5" width="693" height="320" fill="#fff" stroke="#000" stroke-width="3"/>
<line x1="1173" y1="1180" x2="1371.8" y2="1180" stroke="#000" stroke-width="8.2" stroke-linecap="round"/>
<rect x="1259.5" y="1167.5" width="25" height="25" fill="#000"/>
<line x1="1173" y1="1290" x2="1371.8" y2="1290" stroke="#f00" stroke-width="8.2" stroke-linecap="round"/>
<circle cx="1272" cy="1290" r="13.6" fill="#f00"/>
<line x1="1173" y1="1400" x2="1371.8" y2="1400" stroke="#0f0" stroke-width="8.2" stroke-linecap="round"/>
<path d="M1272,1382 l16,29.2 h-32 z" fill="#0f0"/>
</g>
<text y="1209.2" font-size="77"><tspan x="1392" textLength="131" lengthAdjust="spacingAndGlyphs">#5-1</tspan> <tspan x="1543" textLength="321.4" lengthAdjust="spacingAndGlyphs">(Sintered)</tspan></text>
<text y="1319.1" font-size="77"><tspan x="1392" textLength="131" lengthAdjust="spacingAndGlyphs">#5-2</tspan> <tspan x="1543" textLength="321.4" lengthAdjust="spacingAndGlyphs">(Sintered)</tspan></text>
<text y="1429.0" font-size="77"><tspan x="1392" textLength="131" lengthAdjust="spacingAndGlyphs">#5-3</tspan> <tspan x="1543" textLength="321.4" lengthAdjust="spacingAndGlyphs">(Sintered)</tspan></text>
<text x="286.2" y="1503.7" font-size="84.6" text-anchor="end" textLength="103.5" lengthAdjust="spacingAndGlyphs">0.0</text>
<text x="286.2" y="1299.7" font-size="84.6" text-anchor="end" textLength="103.5" lengthAdjust="spacingAndGlyphs">0.5</text>
<text x="286.2" y="1095.7" font-size="84.6" text-anchor="end" textLength="103.5" lengthAdjust="spacingAndGlyphs">1.0</text>
<text x="286.2" y="891.7" font-size="84.6" text-anchor="end" textLength="103.5" lengthAdjust="spacingAndGlyphs">1.5</text>
<text x="286.2" y="687.7" font-size="84.6" text-anchor="end" textLength="103.5" lengthAdjust="spacingAndGlyphs">2.0</text>
<text x="286.2" y="482.7" font-size="84.6" text-anchor="end" textLength="103.5" lengthAdjust="spacingAndGlyphs">2.5</text>
<text x="286.2" y="278.7" font-size="84.6" text-anchor="end" textLength="103.5" lengthAdjust="spacingAndGlyphs">3.0</text>
<text x="286.2" y="74.7" font-size="84.6" text-anchor="end" textLength="103.5" lengthAdjust="spacingAndGlyphs">3.5</text>
<text x="333.0" y="1589.8" font-size="84" text-anchor="middle">0</text>
<text x="554.9" y="1589.8" font-size="84" text-anchor="middle">1</text>
<text x="781.3" y="1589.8" font-size="84" text-anchor="middle">2</text>
<text x="1004.2" y="1589.8" font-size="84" text-anchor="middle">3</text>
<text x="1229.6" y="1589.8" font-size="84" text-anchor="middle">4</text>
<text x="1452.4" y="1589.8" font-size="84" text-anchor="middle">5</text>
<text x="1677.9" y="1589.8" font-size="84" text-anchor="middle">6</text>
<text x="1902.0" y="1589.8" font-size="84" text-anchor="middle">7</text>
<text y="1706.3" font-size="86"><tspan x="764" textLength="489.6" lengthAdjust="spacingAndGlyphs">Displacement</tspan> <tspan x="1275.5" textLength="193.4" lengthAdjust="spacingAndGlyphs">(mm)</tspan></text>
<text transform="translate(98,0) rotate(-90)" y="0" font-size="86"><tspan x="-1064" textLength="309.8" lengthAdjust="spacingAndGlyphs">Pressure</tspan> <tspan x="-734" textLength="178.5" lengthAdjust="spacingAndGlyphs">(KN)</tspan></text>
</svg></body></html>
